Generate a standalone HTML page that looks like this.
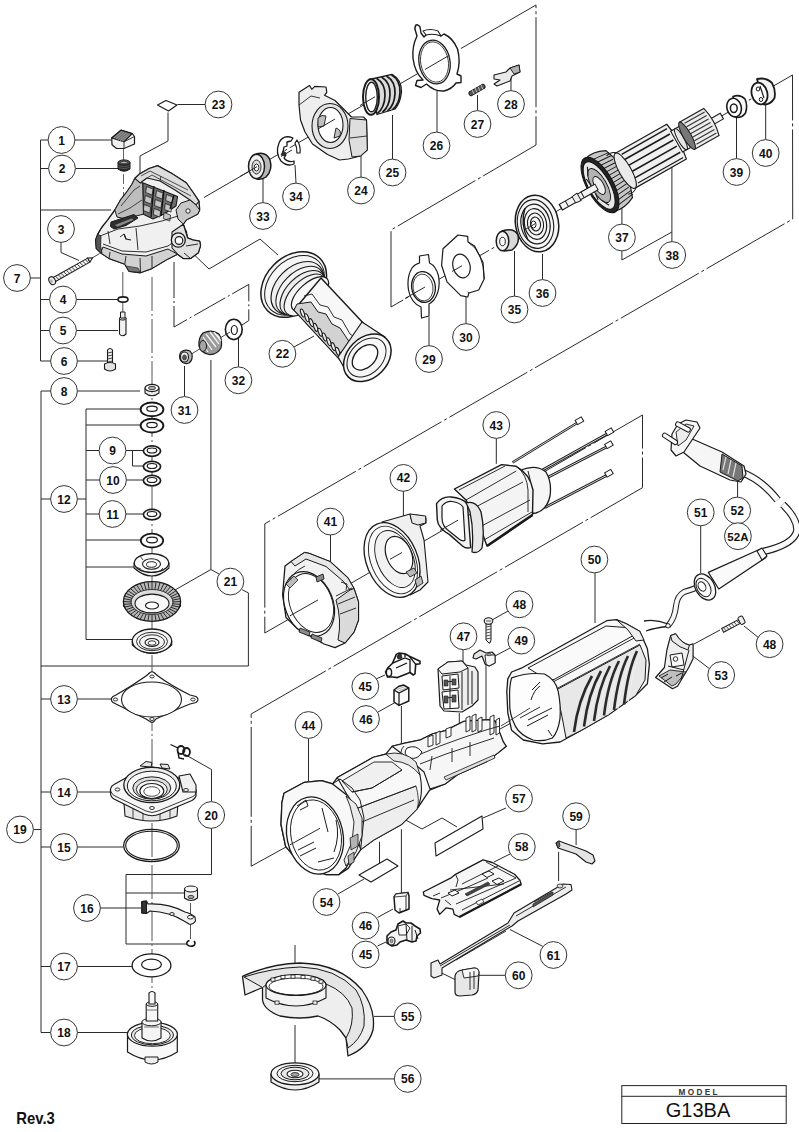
<!DOCTYPE html>
<html><head><meta charset="utf-8"><title>G13BA parts</title>
<style>html,body{margin:0;padding:0;background:#fff;}body{width:799px;height:1132px;overflow:hidden;font-family:"Liberation Sans",sans-serif;}svg{display:block;}</style>
</head><body>
<svg width="799" height="1132" viewBox="0 0 799 1132">
<g fill="none" stroke="#2a2a2a" stroke-width="1">
<polyline points="204.0,197.5 536.0,5.0 536.0,145.0 391.0,230.0 391.0,307.0 792.5,75.0 792.7,219.0 264.8,523.8 264.8,633.0 642.5,415.0 642.5,487.7 251.2,714.0 251.2,866.2 540.0,707.0" stroke-dasharray="90 3 3 3"/>
<polyline points="40.5,140.0 40.5,361.0"/>
<polyline points="40.5,140.0 48.0,140.0"/>
<polyline points="40.5,168.5 48.5,168.5"/>
<polyline points="40.5,210.0 111.0,210.0"/>
<polyline points="40.5,299.5 49.5,299.5"/>
<polyline points="40.5,330.5 49.5,330.5"/>
<polyline points="40.5,361.0 50.5,361.0"/>
<polyline points="30.5,278.0 40.5,278.0"/>
<polyline points="75.0,140.0 111.0,140.0"/>
<polyline points="75.5,168.5 119.0,168.5"/>
<polyline points="76.5,299.5 118.0,299.5"/>
<polyline points="76.5,330.5 118.0,330.5"/>
<polyline points="77.5,361.0 107.0,361.0"/>
<polyline points="61.0,242.4 61.0,252.5 79.0,260.5"/>
<polyline points="41.0,391.0 41.0,1032.5"/>
<polyline points="41.0,391.0 50.6,391.0"/>
<polyline points="41.0,499.0 50.6,499.0"/>
<polyline points="41.0,666.0 248.4,666.0"/>
<polyline points="41.0,699.0 50.6,699.0"/>
<polyline points="41.0,792.0 50.6,792.0"/>
<polyline points="41.0,847.0 50.6,847.0"/>
<polyline points="41.0,966.5 50.6,966.5"/>
<polyline points="41.0,1032.5 50.6,1032.5"/>
<polyline points="33.4,829.5 41.0,829.5"/>
<polyline points="77.4,391.0 140.0,391.0"/>
<polyline points="86.0,409.0 86.0,639.5"/>
<polyline points="77.4,499.0 86.0,499.0"/>
<polyline points="86.0,409.0 140.0,409.0"/>
<polyline points="86.0,425.0 140.0,425.0"/>
<polyline points="86.0,450.5 99.1,450.5"/>
<polyline points="86.0,480.0 99.6,480.0"/>
<polyline points="86.0,514.0 99.1,514.0"/>
<polyline points="86.0,540.0 141.0,540.0"/>
<polyline points="86.0,567.0 135.0,567.0"/>
<polyline points="86.0,639.5 132.0,639.5"/>
<polyline points="125.9,450.5 144.0,450.5"/>
<polyline points="132.5,450.5 132.5,466.0 144.0,466.0"/>
<polyline points="126.4,480.0 144.0,480.0"/>
<polyline points="125.9,514.0 144.0,514.0"/>
<polyline points="77.4,699.0 112.0,699.0"/>
<polyline points="77.4,792.0 111.0,792.0"/>
<polyline points="77.4,847.0 123.0,847.0"/>
<polyline points="100.4,908.0 141.0,908.0"/>
<polyline points="77.4,966.5 132.0,966.5"/>
<polyline points="77.4,1032.5 127.0,1032.5"/>
<polyline points="210.9,360.0 210.9,569.5 175.0,590.0"/>
<polyline points="219.5,574.3 210.9,569.5"/>
<polyline points="242.2,589.7 248.4,592.9 248.4,666.0"/>
<polyline points="211.5,801.1 211.5,769.5 185.0,754.5"/>
<polyline points="211.5,827.9 211.5,874.5 126.0,874.5 126.0,944.0 187.0,944.0"/>
<polyline points="126.0,893.0 185.0,893.0"/>
<polyline points="205.1,104.5 177.5,104.5"/>
<polyline points="168.0,112.5 168.0,141.0 140.0,156.0 140.0,222.0"/>
<polyline points="294.0,347.0 314.0,336.0"/>
<polyline points="183.0,244.0 209.0,269.0 260.0,239.0 278.0,255.0"/>
<polyline points="394.3,1078.9 319.0,1078.9"/>
<polyline points="263.0,177.5 263.0,202.6"/>
<polyline points="295.0,165.0 296.0,183.1"/>
<polyline points="361.0,155.0 361.0,177.1"/>
<polyline points="392.5,115.0 392.5,159.1"/>
<polyline points="437.0,91.0 437.0,132.1"/>
<polyline points="477.5,95.0 477.5,110.6"/>
<polyline points="511.0,77.0 511.0,90.6"/>
<polyline points="429.0,317.0 429.0,345.6"/>
<polyline points="466.0,297.0 466.0,323.6"/>
<polyline points="514.5,251.0 514.5,296.1"/>
<polyline points="542.5,254.0 542.5,279.6"/>
<polyline points="736.5,117.0 736.5,158.6"/>
<polyline points="765.7,103.0 765.7,139.6"/>
<polyline points="184.5,366.0 184.5,396.6"/>
<polyline points="238.5,338.0 238.5,366.6"/>
</g>
<line x1="152" y1="277" x2="152" y2="992" stroke="#555" stroke-width="1" stroke-dasharray="34 3 2 3"/>
<ellipse cx="123" cy="299.5" rx="5" ry="2.6" fill="none" stroke="#1a1a1a" stroke-width="1.6" />
<line x1="122.8" y1="272" x2="122.8" y2="296" stroke="#444" stroke-width="0.9"/>
<line x1="122.8" y1="303" x2="122.8" y2="316" stroke="#444" stroke-width="0.9"/>
<path d="M119.5,318 L119.5,334 Q122.5,337.5 126,334 L126,318 Z" fill="#f2f2f2" stroke="#1a1a1a" stroke-width="1.1" stroke-linejoin="round" />
<ellipse cx="122.7" cy="318.5" rx="3.2" ry="1.6" fill="#dddddd" stroke="#1a1a1a" stroke-width="1" />
<path d="M120.5,312 L120.5,318 L125,318 L125,312 Z" fill="#eeeeee" stroke="#1a1a1a" stroke-width="1" stroke-linejoin="round" />
<path d="M107.5,350 L107.5,364 L112.5,364 L112.5,350 Q110,347 107.5,350 Z" fill="#ececec" stroke="#1a1a1a" stroke-width="1.1" stroke-linejoin="round" />
<path d="M107.5,353 L112.5,352 M107.5,356 L112.5,355 M107.5,359 L112.5,358 M107.5,362 L112.5,361" stroke="#333" stroke-width="0.9"/>
<path d="M104.5,364 L104.5,369 Q110,373 115.5,369 L115.5,364 Q110,361 104.5,364 Z" fill="#e4e4e4" stroke="#1a1a1a" stroke-width="1.1" stroke-linejoin="round" />
<path d="M145,388 L145,393 Q152,398.5 159,393 L159,388 Z" fill="#eaeaea" stroke="#1a1a1a" stroke-width="1.1" stroke-linejoin="round" />
<ellipse cx="152" cy="388" rx="7" ry="3.6" fill="#f6f6f6" stroke="#1a1a1a" stroke-width="1.1" />
<ellipse cx="152" cy="388" rx="3.5" ry="1.7" fill="#b2b2b2" stroke="#1a1a1a" stroke-width="0.8" />
<ellipse cx="152" cy="409.40000000000003" rx="11.4" ry="6.9" fill="#ffffff" stroke="#1a1a1a" stroke-width="1.9" />
<ellipse cx="152" cy="408.8" rx="5.2" ry="2.6" fill="#ffffff" stroke="#1a1a1a" stroke-width="1.2" />
<ellipse cx="152" cy="425.6" rx="11.4" ry="6.9" fill="#ffffff" stroke="#1a1a1a" stroke-width="1.9" />
<ellipse cx="152" cy="425" rx="5.2" ry="2.6" fill="#ffffff" stroke="#1a1a1a" stroke-width="1.2" />
<ellipse cx="152" cy="451.1" rx="8.6" ry="5.2" fill="#ffffff" stroke="#1a1a1a" stroke-width="1.7" />
<ellipse cx="152" cy="450.5" rx="4.8" ry="2.5" fill="#ffffff" stroke="#1a1a1a" stroke-width="1.2" />
<ellipse cx="152" cy="466.6" rx="8.6" ry="5.2" fill="#ffffff" stroke="#1a1a1a" stroke-width="1.7" />
<ellipse cx="152" cy="466" rx="4.8" ry="2.5" fill="#ffffff" stroke="#1a1a1a" stroke-width="1.2" />
<ellipse cx="152" cy="480.6" rx="8.6" ry="5.2" fill="#ffffff" stroke="#1a1a1a" stroke-width="1.7" />
<ellipse cx="152" cy="480" rx="4.8" ry="2.5" fill="#ffffff" stroke="#1a1a1a" stroke-width="1.2" />
<ellipse cx="152" cy="514.6" rx="8.6" ry="5.2" fill="#ffffff" stroke="#1a1a1a" stroke-width="1.6" />
<ellipse cx="152" cy="514" rx="4.8" ry="2.5" fill="#ffffff" stroke="#1a1a1a" stroke-width="1.2" />
<ellipse cx="152" cy="540.6" rx="11.2" ry="6.9" fill="#ffffff" stroke="#1a1a1a" stroke-width="1.8" />
<ellipse cx="152" cy="540" rx="5.4" ry="2.8" fill="#ffffff" stroke="#1a1a1a" stroke-width="1.2" />
<path d="M134,563 L134,568 Q152,584 169,568 L169,563 Z" fill="#f0f0f0" stroke="#1a1a1a" stroke-width="1.1" stroke-linejoin="round" />
<ellipse cx="151.5" cy="563" rx="17.2" ry="9.4" fill="#fafafa" stroke="#1a1a1a" stroke-width="1.2" />
<ellipse cx="151.5" cy="564" rx="9" ry="5.2" fill="#ffffff" stroke="#1a1a1a" stroke-width="1.1" />
<ellipse cx="151.5" cy="564.5" rx="5" ry="2.8" fill="#ffffff" stroke="#1a1a1a" stroke-width="1" />
<path d="M140,556 L143,560 M160,571 L163,568 M136,567 L141,569" stroke="#333" stroke-width="0.9"/>
<path d="M123.5,601 L123.5,606 Q152,634 180.5,606 L180.5,601 Z" fill="#8C8C8C" stroke="#1a1a1a" stroke-width="1.1" stroke-linejoin="round" />
<ellipse cx="152" cy="601.5" rx="28.6" ry="19.8" fill="#B8B8B8" stroke="#1a1a1a" stroke-width="1.3" />
<ellipse cx="152" cy="602" rx="21" ry="12.5" fill="#dcdcdc" stroke="#1a1a1a" stroke-width="0.8" />
<ellipse cx="152" cy="603.5" rx="17" ry="9.4" fill="#f8f8f8" stroke="#1a1a1a" stroke-width="1.1" />
<ellipse cx="152" cy="605.5" rx="6.5" ry="3.5" fill="#ffffff" stroke="#1a1a1a" stroke-width="1.1" />
<path d="M172.5,602.0 L180.2,601.5 M172.3,603.8 L179.9,604.3 M171.7,605.5 L179.1,607.0 M170.6,607.2 L177.7,609.6 M169.2,608.8 L175.7,612.0 M167.5,610.2 L173.3,614.2 M165.4,611.4 L170.5,616.2 M163.1,612.5 L167.2,617.8 M160.5,613.4 L163.7,619.1 M157.8,614.0 L159.9,620.1 M154.9,614.4 L156.0,620.7 M152.0,614.5 L152.0,620.9 M149.1,614.4 L148.0,620.7 M146.2,614.0 L144.1,620.1 M143.5,613.4 L140.3,619.1 M140.9,612.5 L136.8,617.8 M138.6,611.4 L133.5,616.2 M136.5,610.2 L130.7,614.2 M134.8,608.8 L128.3,612.0 M133.4,607.2 L126.3,609.6 M132.3,605.5 L124.9,607.0 M131.7,603.8 L124.1,604.3 M131.5,602.0 L123.8,601.5 M131.7,600.2 L124.1,598.7 M132.3,598.5 L124.9,596.0 M133.4,596.8 L126.3,593.4 M134.8,595.2 L128.3,591.0 M136.5,593.8 L130.7,588.8 M138.6,592.6 L133.5,586.8 M140.9,591.5 L136.8,585.2 M143.5,590.6 L140.3,583.9 M146.2,590.0 L144.1,582.9 M149.1,589.6 L148.0,582.3 M152.0,589.5 L152.0,582.1 M154.9,589.6 L156.0,582.3 M157.8,590.0 L159.9,582.9 M160.5,590.6 L163.7,583.9 M163.1,591.5 L167.2,585.2 M165.4,592.6 L170.5,586.8 M167.5,593.8 L173.3,588.8 M169.2,595.2 L175.7,591.0 M170.6,596.8 L177.7,593.4 M171.7,598.5 L179.1,596.0 M172.3,600.2 L179.9,598.7" stroke="#1a1a1a" stroke-width="0.9" fill="none"/>
<path d="M132.3,641 L132.3,645 Q152,662 171.7,645 L171.7,641 Z" fill="#e7e7e7" stroke="#1a1a1a" stroke-width="1.1" stroke-linejoin="round" />
<ellipse cx="152" cy="641" rx="19.7" ry="12" fill="#f4f4f4" stroke="#1a1a1a" stroke-width="1.3" />
<ellipse cx="152" cy="641.5" rx="15.5" ry="9.2" fill="none" stroke="#1a1a1a" stroke-width="0.9" />
<ellipse cx="152" cy="642" rx="12.5" ry="7.2" fill="none" stroke="#1a1a1a" stroke-width="0.9" />
<ellipse cx="152" cy="642.5" rx="7" ry="4" fill="#ffffff" stroke="#1a1a1a" stroke-width="1.1" />
<ellipse cx="152" cy="643" rx="4" ry="2.2" fill="#ffffff" stroke="#1a1a1a" stroke-width="0.9" />
<path d="M150,672.5 Q152,671 154,672.5 L158,676 Q170,685 190,695 L196,696.5 Q200,699.5 196,702.5 L190,704 Q170,712 156,719 L154,721.5 Q152,723 150,721.5 L146,719 Q132,712 116,704 L113,702.5 Q109.5,699.5 113,696.5 L116,695 Q132,686 146,676 Z" fill="#ffffff" stroke="#1a1a1a" stroke-width="1.2" stroke-linejoin="round" />
<ellipse cx="151.5" cy="699.5" rx="30" ry="17.5" fill="#ffffff" stroke="#1a1a1a" stroke-width="1.1" />
<ellipse cx="152" cy="676.5" rx="2.2" ry="1.5" fill="#ffffff" stroke="#1a1a1a" stroke-width="0.9" />
<ellipse cx="115.5" cy="699.5" rx="2.2" ry="1.5" fill="#ffffff" stroke="#1a1a1a" stroke-width="0.9" />
<ellipse cx="193" cy="699.5" rx="2.2" ry="1.5" fill="#ffffff" stroke="#1a1a1a" stroke-width="0.9" />
<ellipse cx="152" cy="719" rx="2.2" ry="1.5" fill="#ffffff" stroke="#1a1a1a" stroke-width="0.9" />
<path d="M124,803 L125,816 Q152,826 177,816 L178,803 Z" fill="#e8e8e8" stroke="#1a1a1a" stroke-width="1.1" stroke-linejoin="round" />
<path d="M133,808 L133,819 M143,810 L143,821 M160,810 L160,821 M170,808 L170,819" stroke="#333" stroke-width="0.9"/>
<path d="M110.5,789 Q111,786 114,784.5 L140,770 Q152,764 164,770 L193,786 Q197,789 196,793 L196,796 Q195,799 192,800.5 L160,814 Q152,817.5 144,814 L114,799 Q110.5,797 110.5,793 Z" fill="#f6f6f6" stroke="#1a1a1a" stroke-width="1.2" stroke-linejoin="round" />
<path d="M110.5,791 Q113,796 116,796.5 L146,811 Q152,814 158,811 L193,796.5 Q196,795 196,792" fill="none" stroke="#222" stroke-width="0.9"/>
<path d="M179,776 L190,774 L196,785 L196,792 L183,792 Z" fill="#f0f0f0" stroke="#1a1a1a" stroke-width="1.1" stroke-linejoin="round" />
<ellipse cx="151.8" cy="785" rx="28" ry="17.6" fill="#ececec" stroke="#1a1a1a" stroke-width="1.3" />
<ellipse cx="151.8" cy="786" rx="24.5" ry="14.8" fill="#f8f8f8" stroke="#1a1a1a" stroke-width="1" />
<ellipse cx="151.8" cy="788" rx="19" ry="11.2" fill="#dedede" stroke="#1a1a1a" stroke-width="1" />
<ellipse cx="151.8" cy="789.5" rx="15.5" ry="9.2" fill="#f4f4f4" stroke="#1a1a1a" stroke-width="0.9" />
<ellipse cx="151.8" cy="791" rx="12" ry="7.5" fill="#ffffff" stroke="#1a1a1a" stroke-width="1.1" />
<ellipse cx="151.8" cy="791.5" rx="8" ry="4.8" fill="#ffffff" stroke="#1a1a1a" stroke-width="0.8" />
<ellipse cx="117.5" cy="789.5" rx="2.4" ry="1.5" fill="#ffffff" stroke="#1a1a1a" stroke-width="0.9" />
<ellipse cx="186" cy="790" rx="2.4" ry="1.5" fill="#ffffff" stroke="#1a1a1a" stroke-width="0.9" />
<ellipse cx="152" cy="808" rx="2.4" ry="1.5" fill="#ffffff" stroke="#1a1a1a" stroke-width="0.9" />
<path d="M140,766 L146,761.5 L152,762.5 L151,767 Z M160,764 L168,764.5 L170,769 L162,768 Z" fill="#e6e6e6" stroke="#1a1a1a" stroke-width="1" stroke-linejoin="round" />
<ellipse cx="151.5" cy="845.5" rx="27.8" ry="16.1" fill="none" stroke="#1a1a1a" stroke-width="1.3" />
<ellipse cx="151.5" cy="845.5" rx="25.8" ry="14.2" fill="none" stroke="#1a1a1a" stroke-width="1.1" />
<path d="M170.5,744.5 L178,748" stroke="#111" stroke-width="1.2" fill="none"/>
<ellipse cx="181" cy="750" rx="3.5" ry="4" fill="none" stroke="#1a1a1a" stroke-width="1.8" />
<ellipse cx="186.5" cy="752" rx="3.5" ry="4" fill="none" stroke="#1a1a1a" stroke-width="1.8" />
<path d="M178,752 L179,758 L184,759" stroke="#111" stroke-width="1.4" fill="none"/>
<path d="M184.5,889 L184.5,898 Q191,903 197.5,898 L197.5,889 Z" fill="#ececec" stroke="#1a1a1a" stroke-width="1.1" stroke-linejoin="round" />
<ellipse cx="191" cy="889" rx="6.5" ry="3" fill="#f6f6f6" stroke="#1a1a1a" stroke-width="1.1" />
<ellipse cx="191" cy="897" rx="3" ry="1.6" fill="#a6a6a6" stroke="#1a1a1a" stroke-width="0.8" />
<line x1="190.5" y1="903" x2="190.5" y2="914" stroke="#444" stroke-width="0.9"/>
<line x1="190.5" y1="924" x2="190.5" y2="939" stroke="#444" stroke-width="0.9"/>
<path d="M141.8,901.5 L146.5,901 L148,904 Q168,903 185,912 Q192,914 195,917 L195.5,921 Q193,925 189,924 L184,921 Q170,912 150,911 L146.5,913.5 L141.8,913 Z" fill="#f2f2f2" stroke="#1a1a1a" stroke-width="1.1" stroke-linejoin="round" />
<path d="M141.8,901.5 L146.5,901 L146.5,913.5 L141.8,913 Z" fill="#333333" stroke="#1a1a1a" stroke-width="1" stroke-linejoin="round" />
<ellipse cx="190.5" cy="917.2" rx="3" ry="1.8" fill="#ffffff" stroke="#1a1a1a" stroke-width="1" />
<ellipse cx="172" cy="914" rx="2.2" ry="1.5" fill="#eeeeee" stroke="#1a1a1a" stroke-width="0.9" />
<path d="M194,941 Q196,943 194,945.5 Q190,947.5 187,944.5 Q186,941.5 189.5,940.5" fill="none" stroke="#111" stroke-width="1.5"/>
<ellipse cx="151.5" cy="965.4" rx="19.4" ry="11.5" fill="#ffffff" stroke="#1a1a1a" stroke-width="1.3" />
<ellipse cx="151.5" cy="964.5" rx="9.9" ry="5.3" fill="#ffffff" stroke="#1a1a1a" stroke-width="1.2" />
<path d="M127.5,1034 L127.5,1052 Q152.4,1068 177.3,1052 L177.3,1034 Z" fill="#f8f8f8" stroke="#1a1a1a" stroke-width="1.2" stroke-linejoin="round" />
<path d="M145,1057 L145,1062 Q151.5,1066 158,1062 L158,1057 Z" fill="#eeeeee" stroke="#1a1a1a" stroke-width="1" stroke-linejoin="round" />
<ellipse cx="152.4" cy="1034.3" rx="25" ry="11.9" fill="#f8f8f8" stroke="#1a1a1a" stroke-width="1.2" />
<ellipse cx="152.4" cy="1035" rx="21" ry="9.8" fill="#e7e7e7" stroke="#1a1a1a" stroke-width="1" />
<ellipse cx="152.4" cy="1035.5" rx="18" ry="8.2" fill="#f8f8f8" stroke="#1a1a1a" stroke-width="0.9" />
<path d="M142,1022 L142,1038 Q151.5,1044 161,1038 L161,1022 Z" fill="#f4f4f4" stroke="#1a1a1a" stroke-width="1.1" stroke-linejoin="round" />
<ellipse cx="151.5" cy="1022" rx="9.6" ry="3.8" fill="#f6f6f6" stroke="#1a1a1a" stroke-width="1" />
<path d="M146.2,1004 L146.2,1021 L157.7,1021 L157.7,1004 Z" fill="#f6f6f6" stroke="#1a1a1a" stroke-width="1.1" stroke-linejoin="round" />
<ellipse cx="152" cy="1004" rx="5.8" ry="2.3" fill="#f6f6f6" stroke="#1a1a1a" stroke-width="1" />
<path d="M149,993 L149,1004 L155,1004 L155,993 Q152,990 149,993 Z" fill="#f8f8f8" stroke="#1a1a1a" stroke-width="1.1" stroke-linejoin="round" />
<path d="M146.2,1010 L157.7,1010 M144,1027 L159,1027" stroke="#555" stroke-width="0.8"/>
<path d="M157.5,105 L166,100.5 L177,105 L168.5,111 Z" fill="#ffffff" stroke="#1a1a1a" stroke-width="1.1" stroke-linejoin="round" />
<path d="M111.7,138 L112,144.8 L116.5,148.5 L124,148.5 L134.5,144 L134.5,136.5 L132.2,133.5 L121,130.2 Z" fill="#f0f0f0" stroke="#1a1a1a" stroke-width="1.2" stroke-linejoin="round" />
<path d="M111.7,138 L121,130.2 L132.2,133.5 L124,141.8 Z" fill="#6e6e6e" stroke="#1a1a1a" stroke-width="1.1" stroke-linejoin="round" />
<path d="M114,138 L122,131.5 M116,139 L124,132.3 M118,140 L126,133 M120,141 L128,133.8 M122,141.3 L130,134.3" stroke="#aaa" stroke-width="0.7"/>
<path d="M124,141.8 L124,148.5 M124,141.8 L134.5,136.5" stroke="#222" stroke-width="0.9" fill="none"/>
<line x1="123.5" y1="149" x2="123.5" y2="160" stroke="#555" stroke-width="0.9"/>
<path d="M118,162.5 L118,169 Q124,173.5 130,169 L130,162.5 Z" fill="#2a2a2a" stroke="#1a1a1a" stroke-width="1" stroke-linejoin="round" />
<ellipse cx="124" cy="162.5" rx="6" ry="2.6" fill="#555555" stroke="#1a1a1a" stroke-width="1" />
<ellipse cx="124" cy="162.5" rx="3" ry="1.2" fill="#b2b2b2" stroke="#1a1a1a" stroke-width="0.6" />
<path d="M118.5,165.5 Q124,168 129.5,165.5 M118.5,167.5 Q124,170 129.5,167.5" stroke="#777" stroke-width="0.6" fill="none"/>
<line x1="123.5" y1="174" x2="123.5" y2="222" stroke="#555" stroke-width="0.9" stroke-dasharray="10 3 2 3"/>
<g transform="translate(51.3,281.2) rotate(-29.4)"><rect x="3" y="-2.3" width="40" height="4.6" fill="#f4f4f4" stroke="#1a1a1a" stroke-width="1"/><path d="M43,-2.3 L47.5,0 L43,2.3 Z" fill="#f4f4f4" stroke="#1a1a1a" stroke-width="1"/><line x1="6.0" y1="-2.3" x2="7.5" y2="2.3" stroke="#333" stroke-width="0.8"/><line x1="9.1" y1="-2.3" x2="10.6" y2="2.3" stroke="#333" stroke-width="0.8"/><line x1="12.2" y1="-2.3" x2="13.7" y2="2.3" stroke="#333" stroke-width="0.8"/><line x1="15.3" y1="-2.3" x2="16.8" y2="2.3" stroke="#333" stroke-width="0.8"/><line x1="18.4" y1="-2.3" x2="19.9" y2="2.3" stroke="#333" stroke-width="0.8"/><line x1="21.5" y1="-2.3" x2="23.0" y2="2.3" stroke="#333" stroke-width="0.8"/><line x1="24.6" y1="-2.3" x2="26.1" y2="2.3" stroke="#333" stroke-width="0.8"/><line x1="27.7" y1="-2.3" x2="29.2" y2="2.3" stroke="#333" stroke-width="0.8"/><line x1="30.8" y1="-2.3" x2="32.3" y2="2.3" stroke="#333" stroke-width="0.8"/><line x1="33.9" y1="-2.3" x2="35.4" y2="2.3" stroke="#333" stroke-width="0.8"/><line x1="37.0" y1="-2.3" x2="38.5" y2="2.3" stroke="#333" stroke-width="0.8"/><line x1="40.1" y1="-2.3" x2="41.6" y2="2.3" stroke="#333" stroke-width="0.8"/><ellipse cx="1" cy="0" rx="3" ry="4.2" fill="#eeeeee" stroke="#1a1a1a" stroke-width="1.1"/><ellipse cx="0" cy="0" rx="1.5" ry="2" fill="#b2b2b2" stroke="none"/></g>
<line x1="92" y1="258" x2="140" y2="230" stroke="#333" stroke-width="0.9" stroke-dasharray="9 3 2 3"/>
<path d="M134.8,178.5 L139.1,174.3 L149.1,168.6 L157.6,165.7 L171.9,173.6 L186.2,182.8 L193.3,192.8 L199,201.4 L199.7,210 L197.6,214.2 L186.2,220 L183.3,224.2 L184.8,228.5 L186.2,231.4 L187.6,238 L193,240 L199.7,241.3 L200.5,245.6 L198.3,252.8 L190.5,258.5 L183.3,258.5 L177.6,254.2 L166.2,259.9 L151.9,268.5 L140.5,272.7 L129.1,271.3 L124.8,264.2 L109.1,258.5 L100.6,252.8 L96.3,248.5 L95.6,239.9 L97.7,234.2 L102,227 L107.7,219.9 L114.8,210 L120.5,200 L126.2,192.8 L132,184.3 Z" fill="#F0F0F0" stroke="#1a1a1a" stroke-width="1.4" stroke-linejoin="round" />
<path d="M134.8,178.5 L139.1,174.3 L149.1,168.6 L157.6,165.7 L171.9,173.6 L186.2,182.8 L193.3,192.8 L199,201.4 L196,205 L190,200 L175,190 L160,181 L147,178 L140,183 Z" fill="#DDDDDD" stroke="#1a1a1a" stroke-width="1.1" stroke-linejoin="round" />
<path d="M141,176 L150,171 L188,190 M144,180 L152,175 L191,196 M160,181 L161,176" stroke="#222" stroke-width="0.8" fill="none"/>
<path d="M190,200 L196,205 L199.7,210 L197.6,214.2 L186.2,220 L183.3,224.2 L178,219 L176,210 L181,203 Z" fill="#C8C8C8" stroke="#1a1a1a" stroke-width="1" stroke-linejoin="round" />
<ellipse cx="188" cy="211" rx="2.2" ry="2.2" fill="#F0F0F0" stroke="#1a1a1a" stroke-width="0.9" />
<path d="M142.7,182.8 L177.6,196.4 L176,206 L164,214 L153,219 L143.4,214.2 Z" fill="#6E6E6E" stroke="#1a1a1a" stroke-width="1.1" stroke-linejoin="round" />
<path d="M146.5,186.5 l6.5,2.6 l-0.8,6 l-6.5,-2.6 Z M145.3,195.5 l6.5,2.6 l-0.8,6 l-6.5,-2.6 Z M144.1,204.5 l6.5,2.6 l-0.8,6 l-6.5,-2.6 Z M156.5,190.5 l6.5,2.6 l-0.8,6 l-6.5,-2.6 Z M155.3,199.5 l6.5,2.6 l-0.8,6 l-6.5,-2.6 Z M154.1,208.5 l6.5,2.6 l-0.8,6 l-6.5,-2.6 Z M166.5,194.5 l6.5,2.6 l-0.8,6 l-6.5,-2.6 Z M165.3,203.5 l6.5,2.6 l-0.8,6 l-6.5,-2.6 Z M164.1,212.5 l6.5,2.6 l-0.8,6 l-6.5,-2.6 Z" fill="#C4C4C4" stroke="#111" stroke-width="0.7"/>
<path d="M154,186 L151,217 M164,190 L161,216 M174,195 L170,209" stroke="#111" stroke-width="1.3" fill="none"/>
<path d="M114.8,210 L120.5,200 L126.2,192.8 L132,184.3 L134.8,178.5 L140,183 L142.7,182.8 L143.4,214.2 L136,216 L126,219 L117,217 Z" fill="#BDBDBD" stroke="#1a1a1a" stroke-width="1" stroke-linejoin="round" />
<path d="M121,206 L134,190 L140,186 M118,214 L130,208 L142,200" stroke="#222" stroke-width="0.8" fill="none"/>
<path d="M111,222 L134,214.5 L138,218 L126,225.5 L114,229 L110.5,226.5 Z" fill="#2E2E2E" stroke="#1a1a1a" stroke-width="1" stroke-linejoin="round" />
<path d="M114,225 L132,218 L134,220 L118,227 Z" fill="#8A8A8A" stroke="#1a1a1a" stroke-width="0.5" stroke-linejoin="round" />
<path d="M100,236 L118,229 L140,226 L162,221 L178,216 M97.7,234.2 L102,227 M103,244 L122,251 L146,252 L168,246 L182,236 M108,231 L110,244 M136,228 L138,250 M120,237 L124,234 L126,239" stroke="#1a1a1a" stroke-width="0.9" fill="none"/>
<path d="M124,234 L126,239 L131,240" stroke="#1a1a1a" stroke-width="1.2" fill="none"/>
<path d="M103,247 L122,254 L146,256 L168,249 L177.6,254.2 L166.2,259.9 L151.9,268.5 L140.5,272.7 L129.1,271.3 L124.8,264.2 L109.1,258.5 L100.6,252.8 Z" fill="#D2D2D2" stroke="#1a1a1a" stroke-width="1" stroke-linejoin="round" />
<path d="M124.8,264.2 L126,256 M140,258 L140.5,272.7 M152,256 L152,268 M110,252 L109.1,258.5" stroke="#1a1a1a" stroke-width="0.9" fill="none"/>
<path d="M96.3,248.5 L95.6,239.9 L97.7,234.2 L101,236 L100.6,246 L102,252.8 L100.6,252.8 Z" fill="#555555" stroke="#1a1a1a" stroke-width="0.8" stroke-linejoin="round" />
<path d="M126,266 L138,268 L140,272 L129.1,271.3 Z" fill="#777777" stroke="#1a1a1a" stroke-width="0.6" stroke-linejoin="round" />
<path d="M183.3,224.2 L187.6,238 L193,240 L199.7,241.3 L200.5,245.6 L198.3,252.8 L190.5,258.5 L183.3,258.5 L177.6,254.2 L172,248 L172,232 Z" fill="#E0E0E0" stroke="#1a1a1a" stroke-width="1.1" stroke-linejoin="round" />
<ellipse cx="178.3" cy="240" rx="7" ry="7.2" fill="#EAEAEA" stroke="#1a1a1a" stroke-width="1.3" />
<ellipse cx="179" cy="240.5" rx="3.8" ry="3.9" fill="#FFFFFF" stroke="#1a1a1a" stroke-width="1.2" />
<path d="M186,246 L198,244 M184,253 L190,258" stroke="#1a1a1a" stroke-width="0.9" fill="none"/>
<path d="M256,154 Q266,151 270,160 Q273,170 266,177 Q262,180 257,179 Z" fill="#B8B8B8" stroke="#1a1a1a" stroke-width="1.5" stroke-linejoin="round" />
<ellipse cx="256.5" cy="166.5" rx="8" ry="12.3" fill="#F0F0F0" stroke="#1a1a1a" stroke-width="1.5" />
<ellipse cx="256.5" cy="167" rx="4.5" ry="7" fill="#dddddd" stroke="#1a1a1a" stroke-width="0.9" />
<ellipse cx="256.5" cy="167.5" rx="2.3" ry="3.5" fill="#ffffff" stroke="#1a1a1a" stroke-width="0.9" />
<path d="M293,138 Q283,134 279,143 Q275,153 281,161 Q287,167 294,164 L294,161 Q288,163 284,158 L286,155 L283,152 L284,147 L287,146 L287,142 L291,141 Z" fill="#ffffff" stroke="#1a1a1a" stroke-width="1.3" stroke-linejoin="round" />
<path d="M297,140 Q301,146 300,153 L297,153 Q297,147 295,143 Z" fill="#ffffff" stroke="#1a1a1a" stroke-width="1.2" stroke-linejoin="round" />
<path d="M283,151 L286,153 L285,156 L281,155 Z" fill="#333333" stroke="#1a1a1a" stroke-width="0.8" stroke-linejoin="round" />
<path d="M299,92.3 L309.5,85.5 L311.8,89.3 L314.8,86.3 L326,87 L326.8,92.3 L324.5,95.3 L335,100.5 L345.5,111 L351.5,117 L363.5,117 L366.5,120 L367.3,150 L360.5,156 L348.5,159 L339.5,160 L327.5,154.5 L312.5,144 L305,132 L300.5,120 L299,105 Z" fill="#eeeeee" stroke="#1a1a1a" stroke-width="1.2" stroke-linejoin="round" />
<path d="M350,118.5 L366.5,120 L367.3,150 L360.5,156 L352,157 L349,140 Z" fill="#dedede" stroke="#1a1a1a" stroke-width="1" stroke-linejoin="round" />
<path d="M350,138 L367,136 M299,105 L311,96 L320,98" stroke="#222" stroke-width="0.9" fill="none"/>
<ellipse cx="330" cy="126" rx="18" ry="22.5" fill="#e4e4e4" stroke="#1a1a1a" stroke-width="1.1" />
<ellipse cx="330.5" cy="125" rx="12.5" ry="17.5" fill="#ffffff" stroke="#1a1a1a" stroke-width="1.1" />
<path d="M318,118 Q322,114 326,116 L324,126 L318,127 Z M336,128 Q342,130 340,136 L334,138 Z" fill="#bfbfbf" stroke="#1a1a1a" stroke-width="0.9" stroke-linejoin="round" />
<path d="M369.5,79.5 L392,74.3 Q402,80 401.5,92 Q400,104 395,109 L377,114.5 Z" fill="#DCDCDC" stroke="#1a1a1a" stroke-width="1.3" stroke-linejoin="round" />
<path d="M376.5,78.3 Q385.5,83.8 385.0,95.8 Q384.5,107.8 377.5,113.3" stroke="#1a1a1a" stroke-width="1.7" fill="none"/>
<path d="M381.5,77.1 Q390.5,82.6 390.0,94.6 Q389.5,106.6 382.5,112.1" stroke="#1a1a1a" stroke-width="1.7" fill="none"/>
<path d="M386.5,75.9 Q395.5,81.4 395.0,93.4 Q394.5,105.4 387.5,110.9" stroke="#1a1a1a" stroke-width="1.7" fill="none"/>
<path d="M391.5,74.7 Q400.5,80.2 400.0,92.2 Q399.5,104.2 392.5,109.7" stroke="#1a1a1a" stroke-width="1.7" fill="none"/>
<ellipse cx="371" cy="97" rx="8" ry="17.8" fill="#FFFFFF" stroke="#1a1a1a" stroke-width="2.0" />
<ellipse cx="371.5" cy="97" rx="5.8" ry="14.8" fill="none" stroke="#1a1a1a" stroke-width="1.4" />
<path d="M416,25 Q414,28 415.5,31 L417,36 Q412,46 413,58 Q414.5,72 423,80 L417,80.5 L415.5,85.5 L421,87.5 L426.5,84 Q434,91.5 444,91 Q452,89 456,83 L461,82.5 L461,76 L457,74 Q461,62 457.5,49 Q453,38 444,34 L441,36 Q436,32 428,33 L424,37 L421,33 L420,27 Q418,24 416,25 Z" fill="#FFFFFF" stroke="#1a1a1a" stroke-width="1.4" stroke-linejoin="round" />
<path d="M423,31 Q430,28 438,31 L441,36 Q434,33 426,35 Z" fill="#FFFFFF" stroke="#1a1a1a" stroke-width="1.1" stroke-linejoin="round" />
<ellipse cx="434.5" cy="62" rx="15.5" ry="22" fill="#FFFFFF" stroke="#1a1a1a" stroke-width="1.3" transform="rotate(-10 434.5 62)"/>
<ellipse cx="434.5" cy="62" rx="13.8" ry="20.3" fill="none" stroke="#1a1a1a" stroke-width="0.8" transform="rotate(-10 434.5 62)"/>
<path d="M469,92 L483,84 Q486,85 485,88 L471,96 Q468,95 469,92 Z" fill="#555555" stroke="#1a1a1a" stroke-width="1" stroke-linejoin="round" />
<path d="M472,90 L474,94 M475,88 L477,92.5 M478,86.5 L480,91 M481,85 L483,89.5" stroke="#ddd" stroke-width="0.8"/>
<path d="M494,75 L506,72 L510,68 L519,65 L520,72 L512,76 L510,81 L497,86 L494,84 L500,80 L494,79 Z" fill="#eaeaea" stroke="#1a1a1a" stroke-width="1.1" stroke-linejoin="round" />
<path d="M510,68 L519,65 L520,72 L514,74 Z" fill="#b2b2b2" stroke="#1a1a1a" stroke-width="0.9" stroke-linejoin="round" />
<polyline points="174,262 174,327 248.8,284.4 248.8,320.6 241,325.6" fill="none" stroke="#2a2a2a" stroke-width="1" stroke-dasharray="36 3 2 3"/>
<ellipse cx="233.8" cy="329.4" rx="8.4" ry="10.2" fill="#ffffff" stroke="#1a1a1a" stroke-width="1.6" />
<ellipse cx="234.3" cy="330" rx="3" ry="4.5" fill="#ffffff" stroke="#1a1a1a" stroke-width="1.2" />
<line x1="192" y1="353.7" x2="200" y2="348.7" stroke="#333" stroke-width="0.9"/><line x1="220" y1="338" x2="230" y2="332" stroke="#333" stroke-width="0.9"/>
<path d="M181,352 Q185,349 190,351 L192,354 Q193,360 189,363 Q184,365 181,361 Q178,356 181,352 Z" fill="#b8b8b8" stroke="#1a1a1a" stroke-width="1.2" stroke-linejoin="round" />
<ellipse cx="184.5" cy="357" rx="4" ry="5" fill="#ececec" stroke="#1a1a1a" stroke-width="1.1" />
<ellipse cx="184.5" cy="357.5" rx="2" ry="2.6" fill="#555555" stroke="#1a1a1a" stroke-width="0.6" />
<path d="M203,333 Q212,329 219,334 Q223,340 221,348 Q217,355 209,354.5 Q201,353 199,346 Q198,338 203,333 Z" fill="#9A9A9A" stroke="#1a1a1a" stroke-width="1.2" stroke-linejoin="round" />
<path d="M206,334 L216,347 M210,332 L219,344 M214,332 L221,341 M203,337 L212,350 M201,342 L208,352 M217,335 L220,338" stroke="#f4f4f4" stroke-width="1.3" fill="none"/>
<ellipse cx="203" cy="346" rx="3.5" ry="5.5" fill="#a6a6a6" stroke="#1a1a1a" stroke-width="1" />
<ellipse cx="293.7" cy="284.5" rx="28" ry="37" transform="rotate(45 293.7 284.5)" fill="#F6F6F6" stroke="#1a1a1a" stroke-width="1.5"/>
<ellipse cx="294.5" cy="285.3" rx="25" ry="34" transform="rotate(45 294.5 285.3)" fill="none" stroke="#1a1a1a" stroke-width="1.0"/>
<ellipse cx="297.5" cy="288" rx="21" ry="31" transform="rotate(45 297.5 288)" fill="#EFEFEF" stroke="#1a1a1a" stroke-width="1.2"/>
<ellipse cx="300" cy="290.5" rx="18" ry="29" transform="rotate(45 300 290.5)" fill="#F4F4F4" stroke="#1a1a1a" stroke-width="1.1"/>
<ellipse cx="302.5" cy="293" rx="16" ry="27.5" transform="rotate(45 302.5 293)" fill="#EDEDED" stroke="#1a1a1a" stroke-width="1.1"/>
<ellipse cx="305" cy="295" rx="14" ry="26" transform="rotate(45 305 295)" fill="#F4F4F4" stroke="#1a1a1a" stroke-width="1.1"/>
<ellipse cx="310" cy="294" rx="11" ry="23" transform="rotate(48 310 294)" fill="#F8F8F8" stroke="#1a1a1a" stroke-width="1.2"/>
<path d="M321,278 L366,326 L342,362 L294,310 Z" fill="#F8F8F8" stroke="#1a1a1a" stroke-width="1.4" stroke-linejoin="round" />
<path d="M297,304 L311,302 L318,312 L326,314 L332,324 L340,328 L348,340 L352,346 L342,362 L294,310 Z" fill="#D2D2D2" stroke="#1a1a1a" stroke-width="1.0" stroke-linejoin="round" />
<path d="M304,296 L312,294 L320,305 L328,307 L334,317 L342,320 L350,334 L356,338" stroke="#1a1a1a" stroke-width="0.9" fill="none"/>
<ellipse cx="302.5" cy="313.0" rx="1.6" ry="4.2" transform="rotate(-20 302.5 313.0)" fill="#F0F0F0" stroke="#1a1a1a" stroke-width="1.1"/><ellipse cx="306.9" cy="317.8" rx="1.6" ry="4.2" transform="rotate(-20 306.9 317.8)" fill="#F0F0F0" stroke="#1a1a1a" stroke-width="1.1"/><ellipse cx="311.3" cy="322.6" rx="1.6" ry="4.2" transform="rotate(-20 311.3 322.6)" fill="#F0F0F0" stroke="#1a1a1a" stroke-width="1.1"/><ellipse cx="315.7" cy="327.4" rx="1.6" ry="4.2" transform="rotate(-20 315.7 327.4)" fill="#F0F0F0" stroke="#1a1a1a" stroke-width="1.1"/><ellipse cx="320.1" cy="332.2" rx="1.6" ry="4.2" transform="rotate(-20 320.1 332.2)" fill="#F0F0F0" stroke="#1a1a1a" stroke-width="1.1"/><ellipse cx="324.5" cy="337.0" rx="1.6" ry="4.2" transform="rotate(-20 324.5 337.0)" fill="#F0F0F0" stroke="#1a1a1a" stroke-width="1.1"/><ellipse cx="328.9" cy="341.8" rx="1.6" ry="4.2" transform="rotate(-20 328.9 341.8)" fill="#F0F0F0" stroke="#1a1a1a" stroke-width="1.1"/><ellipse cx="333.3" cy="346.6" rx="1.6" ry="4.2" transform="rotate(-20 333.3 346.6)" fill="#F0F0F0" stroke="#1a1a1a" stroke-width="1.1"/><ellipse cx="337.7" cy="351.4" rx="1.6" ry="4.2" transform="rotate(-20 337.7 351.4)" fill="#F0F0F0" stroke="#1a1a1a" stroke-width="1.1"/><ellipse cx="342.1" cy="356.2" rx="1.6" ry="4.2" transform="rotate(-20 342.1 356.2)" fill="#F0F0F0" stroke="#1a1a1a" stroke-width="1.1"/>
<path d="M362,322 L385,337 L350,378 L338,357 Z" fill="#EEEEEE" stroke="#1a1a1a" stroke-width="1.2" stroke-linejoin="round" />
<ellipse cx="367.3" cy="357.8" rx="20" ry="27" transform="rotate(45 367.3 357.8)" fill="#F6F6F6" stroke="#1a1a1a" stroke-width="1.5"/>
<ellipse cx="366.5" cy="357.5" rx="16" ry="22.5" transform="rotate(45 366.5 357.5)" fill="none" stroke="#1a1a1a" stroke-width="1.0"/>
<ellipse cx="365" cy="357.3" rx="10" ry="15" transform="rotate(45 365 357.3)" fill="#FFFFFF" stroke="#1a1a1a" stroke-width="1.3"/>
<polyline points="621.9,251 621.9,260 671.9,232" fill="none" stroke="#2a2a2a" stroke-width="1"/>
<line x1="621.9" y1="208" x2="621.9" y2="224.6" stroke="#2a2a2a" stroke-width="1"/>
<line x1="671.9" y1="158" x2="671.9" y2="242" stroke="#2a2a2a" stroke-width="1"/>
<g transform="translate(600,185) rotate(-29.5)"><rect x="-45" y="-3.2" width="185" height="6.4" fill="#f4f4f4" stroke="#1a1a1a" stroke-width="1.1"/><path d="M-45,-3.2 L-45,3.2 M-38,-3.2 L-38,3.2 M-30,-3.6 L-30,3.6 L-24,4.2 L-24,-4.2 Z" stroke="#1a1a1a" stroke-width="0.9" fill="#eeeeee"/><path d="M0,-30 Q10,-33 22,-27 L28,-10 L28,10 L22,27 Q10,33 0,30 Z" fill="#C8C8C8" stroke="#1a1a1a" stroke-width="1.2"/><line x1="3" y1="-26.0" x2="24" y2="-24.0" stroke="#1a1a1a" stroke-width="0.9"/><line x1="3" y1="-21.6" x2="24" y2="-20.0" stroke="#1a1a1a" stroke-width="0.9"/><line x1="3" y1="-17.2" x2="24" y2="-16.0" stroke="#1a1a1a" stroke-width="0.9"/><line x1="3" y1="-12.8" x2="24" y2="-12.0" stroke="#1a1a1a" stroke-width="0.9"/><line x1="3" y1="-8.4" x2="24" y2="-8.0" stroke="#1a1a1a" stroke-width="0.9"/><line x1="3" y1="-4.0" x2="24" y2="-4.0" stroke="#1a1a1a" stroke-width="0.9"/><line x1="3" y1="0.4" x2="24" y2="0.0" stroke="#1a1a1a" stroke-width="0.9"/><line x1="3" y1="4.8" x2="24" y2="4.0" stroke="#1a1a1a" stroke-width="0.9"/><line x1="3" y1="9.2" x2="24" y2="8.0" stroke="#1a1a1a" stroke-width="0.9"/><line x1="3" y1="13.6" x2="24" y2="12.0" stroke="#1a1a1a" stroke-width="0.9"/><line x1="3" y1="18.0" x2="24" y2="16.0" stroke="#1a1a1a" stroke-width="0.9"/><line x1="3" y1="22.4" x2="24" y2="20.0" stroke="#1a1a1a" stroke-width="0.9"/><line x1="3" y1="26.8" x2="24" y2="24.0" stroke="#1a1a1a" stroke-width="0.9"/><ellipse cx="0" cy="0" rx="13" ry="31" fill="#222222" stroke="#111" stroke-width="1"/><ellipse cx="-1" cy="0" rx="10.5" ry="26.5" fill="#e7e7e7" stroke="#111" stroke-width="0.9"/><ellipse cx="-1" cy="0" rx="7.5" ry="19" fill="#b3b3b3" stroke="#111" stroke-width="0.9"/><ellipse cx="-1" cy="0" rx="4.5" ry="10" fill="#eeeeee" stroke="#111" stroke-width="0.9"/><path d="M-6,-14 L-2,-22 M-6,14 L-2,22 M-8,-4 L-9,-12 M-8,5 L-9,12" stroke="#222" stroke-width="1.2"/><rect x="-20" y="-3.2" width="16" height="6.4" fill="#f4f4f4" stroke="#1a1a1a" stroke-width="1"/><path d="M29,-20 L88,-20 Q92,0 88,20 L29,20 Z" fill="#f0f0f0" stroke="#1a1a1a" stroke-width="1.2"/><line x1="34" y1="-16" x2="86" y2="-16" stroke="#1a1a1a" stroke-width="1.4"/><line x1="34" y1="-10" x2="86" y2="-10" stroke="#1a1a1a" stroke-width="1.6"/><line x1="34" y1="-3" x2="86" y2="-3" stroke="#1a1a1a" stroke-width="1.6"/><line x1="34" y1="4" x2="86" y2="4" stroke="#1a1a1a" stroke-width="1.6"/><line x1="34" y1="11" x2="86" y2="11" stroke="#1a1a1a" stroke-width="1.5"/><line x1="34" y1="17" x2="86" y2="17" stroke="#1a1a1a" stroke-width="1.2"/><ellipse cx="29" cy="0" rx="6" ry="20" fill="#eaeaea" stroke="#1a1a1a" stroke-width="1.1"/><path d="M20,-22 Q26,-24 30,-20 M20,22 Q26,24 30,20" stroke="#1a1a1a" stroke-width="1" fill="none"/><path d="M88,-12 L101,-12 L101,12 L88,12 Z" fill="#f2f2f2" stroke="#1a1a1a" stroke-width="1.1"/><ellipse cx="93" cy="0" rx="3" ry="12" fill="#e6e6e6" stroke="#1a1a1a" stroke-width="0.9"/><path d="M100,-15.5 L128,-15.5 Q132,0 128,15.5 L100,15.5 Z" fill="#ececec" stroke="#1a1a1a" stroke-width="1.1"/><line x1="104" y1="-12.0" x2="127" y2="-12.0" stroke="#333" stroke-width="1.1"/><line x1="104" y1="-8.0" x2="127" y2="-8.0" stroke="#333" stroke-width="1.1"/><line x1="104" y1="-4.0" x2="127" y2="-4.0" stroke="#333" stroke-width="1.1"/><line x1="104" y1="0.0" x2="127" y2="0.0" stroke="#333" stroke-width="1.1"/><line x1="104" y1="4.0" x2="127" y2="4.0" stroke="#333" stroke-width="1.1"/><line x1="104" y1="8.0" x2="127" y2="8.0" stroke="#333" stroke-width="1.1"/><line x1="104" y1="12.0" x2="127" y2="12.0" stroke="#333" stroke-width="1.1"/><ellipse cx="100" cy="0" rx="4" ry="15.5" fill="#777777" stroke="#1a1a1a" stroke-width="1"/></g>
<path d="M733,96.5 Q740,94 745,99 Q748,106 745.5,113 Q742,118 736,117.5 Z" fill="#FAFAFA" stroke="#1a1a1a" stroke-width="1.6" stroke-linejoin="round" />
<ellipse cx="734.1" cy="107.6" rx="7.2" ry="9.4" fill="#FFFFFF" stroke="#1a1a1a" stroke-width="1.6" transform="rotate(-15 734.1 107.6)"/>
<ellipse cx="733.8" cy="108.3" rx="3.4" ry="4.2" fill="#FFFFFF" stroke="#1a1a1a" stroke-width="1.5" />
<path d="M757,79 Q766,77 772,83 Q776,90 774.5,98 Q771,104.5 764,104.5 Z" fill="#F4F4F4" stroke="#1a1a1a" stroke-width="1.8" stroke-linejoin="round" />
<ellipse cx="759.5" cy="93.5" rx="7.8" ry="11" fill="#FFFFFF" stroke="#1a1a1a" stroke-width="1.8" transform="rotate(-15 759.5 93.5)"/>
<ellipse cx="758" cy="89" rx="1.8" ry="2" fill="#FFFFFF" stroke="#1a1a1a" stroke-width="1.0" />
<ellipse cx="761" cy="99.5" rx="1.8" ry="2" fill="#FFFFFF" stroke="#1a1a1a" stroke-width="1.0" />
<path d="M760,86 L764,98" stroke="#1a1a1a" stroke-width="1.2"/>
<path d="M419.5,256 L428.5,254.5 L429.5,263 Q436,266 438.5,276 Q441,290 434,300 Q431,303 429,304 L429,316 L421.5,318 L421,307 Q411,303 408.5,290 Q406.5,277 412,268 Q415,264 419.5,263 Z" fill="#ffffff" stroke="#1a1a1a" stroke-width="1.2" stroke-linejoin="round" />
<ellipse cx="423.5" cy="287" rx="11.8" ry="15.5" fill="#ffffff" stroke="#1a1a1a" stroke-width="1.3" transform="rotate(-8 423.5 287)"/>
<ellipse cx="423" cy="287.5" rx="10" ry="13.5" fill="none" stroke="#1a1a1a" stroke-width="0.8" transform="rotate(-8 423 287.5)"/>
<path d="M443,248.8 L458,235 L467.7,236.4 L468,242 L474.6,246 L483,262.6 L484.2,279 L478.7,290 L469,293 L467.7,297 L460.8,295.6 L447,281.9 L441.6,265.3 Z" fill="#ffffff" stroke="#1a1a1a" stroke-width="1.2" stroke-linejoin="round" />
<path d="M468,242 Q484,252 484.2,279 M467.7,292 L469,293" stroke="#1a1a1a" stroke-width="0.9" fill="none"/>
<ellipse cx="461.5" cy="266" rx="8.5" ry="12" fill="#ffffff" stroke="#1a1a1a" stroke-width="1.2" transform="rotate(-15 461.5 266)"/>
<path d="M502,231 Q514,227 518,235 Q520,244 512,250 L504,251 Z" fill="#D8D8D8" stroke="#1a1a1a" stroke-width="1.5" stroke-linejoin="round" />
<ellipse cx="502.5" cy="241" rx="6.3" ry="9.8" fill="#F4F4F4" stroke="#1a1a1a" stroke-width="1.5" />
<ellipse cx="502.5" cy="241.5" rx="2.8" ry="4.2" fill="#ffffff" stroke="#1a1a1a" stroke-width="1" />
<ellipse cx="537" cy="223.5" rx="21.5" ry="28.5" fill="#f6f6f6" stroke="#1a1a1a" stroke-width="1.5" transform="rotate(-10 537 223.5)"/>
<ellipse cx="535.5" cy="224" rx="18" ry="24.5" fill="none" stroke="#1a1a1a" stroke-width="1.1" transform="rotate(-10 535.5 224)"/>
<ellipse cx="535.5" cy="224" rx="14.5" ry="20" fill="none" stroke="#1a1a1a" stroke-width="1.2" transform="rotate(-10 535.5 224)"/>
<ellipse cx="535.5" cy="224" rx="11" ry="15.5" fill="none" stroke="#1a1a1a" stroke-width="1.2" transform="rotate(-10 535.5 224)"/>
<ellipse cx="535.5" cy="224" rx="8" ry="11" fill="none" stroke="#1a1a1a" stroke-width="1.1" transform="rotate(-10 535.5 224)"/>
<ellipse cx="535.5" cy="224" rx="5" ry="7" fill="none" stroke="#1a1a1a" stroke-width="1.1" transform="rotate(-10 535.5 224)"/>
<ellipse cx="533.5" cy="224.5" rx="2.5" ry="3.5" fill="#ffffff" stroke="#1a1a1a" stroke-width="1" />
<path d="M525,208 Q520,224 528,240" stroke="#1a1a1a" stroke-width="1.4" fill="none"/>
<line x1="330.5" y1="534.5" x2="330.5" y2="561.5" stroke="#2a2a2a" stroke-width="1"/>
<path d="M285,566 L291,561.5 L304.5,552.5 L309,553.3 L330,561.5 L348,578 L354,588.5 L358.5,602 L358.5,620 L354,632 L345,643 L335,647.6 L324,644 L297.6,628.8 L286,617.5 L282.6,595 Z" fill="#f2f2f2" stroke="#1a1a1a" stroke-width="1.3" stroke-linejoin="round" />
<path d="M291,561.5 L304.5,552.5 L309,553.3 L330,561.5 L348,578 L354,588.5 L350,590 L343,581 L326,566.5 L306,559 L295,566 Z" fill="#e7e7e7" stroke="#1a1a1a" stroke-width="1" stroke-linejoin="round" />
<path d="M336,600 L350,590 L354,588.5 L358.5,602 L358.5,620 L354,632 L345,643 L338,640 Q342,620 336,600 Z" fill="#dadada" stroke="#1a1a1a" stroke-width="1" stroke-linejoin="round" />
<ellipse cx="309" cy="604" rx="24" ry="33.5" fill="#ffffff" stroke="#1a1a1a" stroke-width="1.2" transform="rotate(-22 309 604)"/>
<ellipse cx="311" cy="603" rx="21" ry="30.5" fill="none" stroke="#1a1a1a" stroke-width="0.9" transform="rotate(-22 311 603)"/>
<path d="M316,577 L323,574 L324,579 L317,582 Z M300,628 L310,632 L309,636 L299,632 Z M312,634 L322,638 L321,642 L311,638 Z" fill="#8A8A8A" stroke="#1a1a1a" stroke-width="0.9" stroke-linejoin="round" />
<path d="M336,596 L352,588 M338,604 L355,597 M340,614 L356,608 M287,585 Q292,572 305,566 M341,582 L347,584 L346,590" stroke="#1a1a1a" stroke-width="0.9" fill="none"/>
<path d="M286,584 L294,576 L298,580 L290,588 Z" fill="#BBBBBB" stroke="#1a1a1a" stroke-width="0.8" stroke-linejoin="round" />
<line x1="403.4" y1="491" x2="403.4" y2="517.8" stroke="#2a2a2a" stroke-width="1"/>
<path d="M382,522 L410,514 L411,519 L417,515 L426,518 L426,523 L420,526 L424,540 L428,582 L420,590 L410,595 Z" fill="#f0f0f0" stroke="#1a1a1a" stroke-width="1.1" stroke-linejoin="round" />
<path d="M410,514 L425.7,516 L425.7,523 L418,525 L412,523 Z" fill="#e7e7e7" stroke="#1a1a1a" stroke-width="1" stroke-linejoin="round" />
<ellipse cx="392" cy="560" rx="25.5" ry="39" fill="#fafafa" stroke="#1a1a1a" stroke-width="1.3" transform="rotate(-23 392 560)"/>
<ellipse cx="393" cy="560" rx="22" ry="35.5" fill="none" stroke="#1a1a1a" stroke-width="0.9" transform="rotate(-23 393 560)"/>
<ellipse cx="395" cy="559" rx="18" ry="30" fill="#f2f2f2" stroke="#1a1a1a" stroke-width="0.9" transform="rotate(-23 395 559)"/>
<ellipse cx="399" cy="555" rx="12.5" ry="19.5" fill="#ffffff" stroke="#1a1a1a" stroke-width="1.2" transform="rotate(-23 399 555)"/>
<path d="M406,572 L414,568 L417,573 L410,577 Z M415,580 L421,576 L423,583 L417,587 Z" fill="#BBBBBB" stroke="#1a1a1a" stroke-width="0.9" stroke-linejoin="round" />
<line x1="496.3" y1="438.4" x2="496.3" y2="463.8" stroke="#2a2a2a" stroke-width="1"/>
<path d="M512.5,462.5 L577,423" stroke="#1a1a1a" stroke-width="2.6" fill="none"/><path d="M512.5,462.5 L577,423" stroke="#fff" stroke-width="0.8" fill="none"/>
<rect x="576" y="418.5" width="7" height="5" fill="#ffffff" stroke="#1a1a1a" stroke-width="1" transform="rotate(-30 579 421)"/>
<path d="M542.5,470 L607,434" stroke="#1a1a1a" stroke-width="2.6" fill="none"/><path d="M542.5,470 L607,434" stroke="#fff" stroke-width="0.8" fill="none"/>
<rect x="606" y="429.5" width="7" height="5" fill="#ffffff" stroke="#1a1a1a" stroke-width="1" transform="rotate(-30 609 432)"/>
<path d="M547.5,477.5 L606.5,447" stroke="#1a1a1a" stroke-width="2.6" fill="none"/><path d="M547.5,477.5 L606.5,447" stroke="#fff" stroke-width="0.8" fill="none"/>
<rect x="605.5" y="442.5" width="7" height="5" fill="#ffffff" stroke="#1a1a1a" stroke-width="1" transform="rotate(-30 608.5 445)"/>
<path d="M545,507.5 L606.5,475.5" stroke="#1a1a1a" stroke-width="2.6" fill="none"/><path d="M545,507.5 L606.5,475.5" stroke="#fff" stroke-width="0.8" fill="none"/>
<rect x="605.5" y="471.0" width="7" height="5" fill="#ffffff" stroke="#1a1a1a" stroke-width="1" transform="rotate(-30 608.5 473.5)"/>
<path d="M521,470 Q536,464 546,472 Q552,482 550,496 Q547,510 536,513 L528,514 Z" fill="#F6F6F6" stroke="#1a1a1a" stroke-width="1.3" stroke-linejoin="round" />
<path d="M528,471 Q534,490 530,513" stroke="#1a1a1a" stroke-width="1" fill="none"/>
<path d="M454.4,489 L501.6,464.6 L516.2,466.3 Q530,474 533,490 L532.5,515 L487,546 Q478,520 466,500 Z" fill="#F4F4F4" stroke="#1a1a1a" stroke-width="1.4" stroke-linejoin="round" />
<path d="M466,500 L516.2,471 M470,510 L523,482 M478,528 L530,500 M484,540 L532,512" stroke="#1a1a1a" stroke-width="0.9" fill="none"/>
<path d="M487,546 L532.5,515" stroke="#1a1a1a" stroke-width="2.6" fill="none"/>
<path d="M459,490 L505,466 M516.2,466.3 Q527,474 528,490 L528,512" stroke="#1a1a1a" stroke-width="0.9" fill="none"/>
<path d="M436.5,503.7 Q442,496 451,497 Q462,498 467.4,503.7 L470.7,547.6 Q466,549 462.5,546 L449.5,534.6 Q438,528 437.3,520 Z" fill="#F2F2F2" stroke="#1a1a1a" stroke-width="1.4" stroke-linejoin="round" />
<path d="M442,506 Q446,501 452,501.5 Q460,502.5 463,507 L465,540 Q463,542 459,539 L449,531 Q442,526 442,518 Z" fill="#FFFFFF" stroke="#1a1a1a" stroke-width="1.2" stroke-linejoin="round" />
<path d="M466,503 Q476,500 481,512 Q485,530 482,548 Q478,554 472,552 Q474,530 470,512 Q468,506 466,503 Z" fill="#E8E8E8" stroke="#1a1a1a" stroke-width="1.3" stroke-linejoin="round" />
<polyline points="308.5,738.4 308.5,781" fill="none" stroke="#2a2a2a" stroke-width="1" />
<polyline points="393,813 422,829 442,818 457,827" fill="none" stroke="#2a2a2a" stroke-width="1" />
<polyline points="506,808 483,818" fill="none" stroke="#2a2a2a" stroke-width="1" />
<polyline points="379.5,841.8 379.5,871" fill="none" stroke="#2a2a2a" stroke-width="1" />
<polyline points="338,894 364,879" fill="none" stroke="#2a2a2a" stroke-width="1" />
<polyline points="401.4,829.2 401.4,893" fill="none" stroke="#2a2a2a" stroke-width="1" />
<polyline points="401.4,706 401.4,749.5" fill="none" stroke="#2a2a2a" stroke-width="1" />
<polyline points="459.3,713 459.3,746.3" fill="none" stroke="#2a2a2a" stroke-width="1" />
<polyline points="486,660 486,727.5" fill="none" stroke="#2a2a2a" stroke-width="1" />
<path d="M284,793.3 L304.4,782.3 L321.6,780.7 L332.6,783.9 L337.3,777.6 L373.3,757.3 L385.8,754.1 L392,746.3 L404.5,743.2 L420.2,740 L432.7,733.8 L445.2,730.7 L464,721.3 L489,719.7 L495.3,721.3 L503.1,741.6 L506.2,746.3 L498.4,752.6 L485.9,762 L457.7,774.5 L445.2,783.9 L429.6,790.1 L417.1,808.9 L401.4,824.5 L373.3,840.2 L360.7,849.6 L348.2,868.4 L338.8,874.6 L326.3,874.6 L301.3,865.2 L285.6,846.4 L281,824.5 L281.9,802.6 Z" fill="#fafafa" stroke="#1a1a1a" stroke-width="1.3" stroke-linejoin="round" />
<path d="M392,746.3 L404.5,743.2 L420.2,740 L432.7,733.8 L445.2,730.7 L464,721.3 L489,719.7 L495.3,721.3 L503.1,741.6 L506.2,746.3 L498.4,752.6 L485.9,762 L457.7,774.5 L445.2,783.9 L430,789 L424,772 L410,760 Z" fill="#f6f6f6" stroke="#1a1a1a" stroke-width="1.1" stroke-linejoin="round" />
<path d="M428,737 l5,-2 l0,10 l-5,2 Z" fill="#FFFFFF" stroke="#1a1a1a" stroke-width="0.9"/>
<path d="M436,733 l4,-2 l0,12 l-4,2 Z" fill="#FFFFFF" stroke="#1a1a1a" stroke-width="0.9"/>
<path d="M446,729 l5,-2 l0,9 l-5,2 Z" fill="#FFFFFF" stroke="#1a1a1a" stroke-width="0.9"/>
<path d="M466,718 l4,-2 l0,14 l-4,2 Z" fill="#FFFFFF" stroke="#1a1a1a" stroke-width="0.9"/>
<path d="M472,716 l4,-2 l0,16 l-4,2 Z" fill="#FFFFFF" stroke="#1a1a1a" stroke-width="0.9"/>
<path d="M478,719 l4,-2 l0,13 l-4,2 Z" fill="#FFFFFF" stroke="#1a1a1a" stroke-width="0.9"/>
<path d="M490,717 l4,-2 l0,18 l-4,2 Z" fill="#FFFFFF" stroke="#1a1a1a" stroke-width="0.9"/>
<path d="M496,720 l3.5,-2 l0,15 l-3.5,2 Z" fill="#FFFFFF" stroke="#1a1a1a" stroke-width="0.9"/>
<path d="M416,756 L440,746 L462,738 L486,730 L500,726 M420,764 L446,754 L470,746 L494,738 M430,770 L432,756 M452,762 L452,748 M470,756 L470,742 M404,760 Q398,752 404,746" stroke="#1a1a1a" stroke-width="0.9" fill="none"/>
<path d="M444,777 L494,755 L495,758 L446,780 Z" fill="#dedede" stroke="#1a1a1a" stroke-width="0.8" stroke-linejoin="round" />
<path d="M407,748 Q416,744 422,752 Q418,760 410,758 Q402,754 407,748 Z" fill="#ffffff" stroke="#1a1a1a" stroke-width="1" stroke-linejoin="round" />
<path d="M337.3,777.6 L373.3,757.3 L385.8,754.1 Q412,754 420,775 Q424,795 417.1,808.9 L401.4,824.5 L373.3,840.2 L360.7,849.6 L355,830 L350,800 Z" fill="#f8f8f8" stroke="#1a1a1a" stroke-width="1.1" stroke-linejoin="round" />
<path d="M358,808 L416,786 Q420,800 417.1,808.9 L401.4,824.5 L373.3,840.2 L360.7,849.6 L357,830 Z" fill="#eeeeee" stroke="#1a1a1a" stroke-width="0.8" stroke-linejoin="round" />
<path d="M342,781 L374,762 L392,762 L402,770 L372,788 L352,792 Z" fill="#f0f0f0" stroke="#1a1a1a" stroke-width="0.9" stroke-linejoin="round" />
<path d="M352,792 L372,788 L402,770 M358,808 L416,786 M362,822 L414,800" stroke="#1a1a1a" stroke-width="0.9" fill="none"/>
<path d="M385.8,754.1 Q404,750 416,762 L420,775 Q410,762 394,761 Z" fill="#e7e7e7" stroke="#1a1a1a" stroke-width="0.9" stroke-linejoin="round" />
<path d="M284,793.3 L304.4,782.3 L321.6,780.7 L332.6,783.9 L348,796 L358,812 L360,830 L356,850 L346,868 L338.8,874.6 L326.3,874.6 L301.3,865.2 L285.6,846.4 L281,824.5 L281.9,802.6 Z" fill="#f8f8f8" stroke="#1a1a1a" stroke-width="1.3" stroke-linejoin="round" />
<path d="M332.6,783.9 L340,779 L352,788 L360,800 L364,818 L362,836 L360.7,849.6" stroke="#1a1a1a" stroke-width="1" fill="none"/>
<path d="M346,796 L356,804 L362,818 L362,836 L356,852 L346,866 L344,860 L352,842 L354,822 L350,806 Z" fill="#eaeaea" stroke="#1a1a1a" stroke-width="0.9" stroke-linejoin="round" />
<ellipse cx="315" cy="835.5" rx="28" ry="39" fill="#fefefe" stroke="#1a1a1a" stroke-width="1.3" transform="rotate(-12 315 835.5)"/>
<ellipse cx="316" cy="835" rx="25" ry="35.5" fill="none" stroke="#1a1a1a" stroke-width="0.9" transform="rotate(-12 316 835)"/>
<path d="M297,806 L306,800 L308,806 L300,810 M298,850 L314,842 M300,856 L316,848 M318,862 L334,858 M322,808 L328,832 M336,820 Q340,836 334,852" stroke="#1a1a1a" stroke-width="1" fill="none"/>
<path d="M350,838 L358,834 L358,846 L351,850 Z M348,856 L354,852 L354,862 L349,865 Z" fill="#b3b3b3" stroke="#1a1a1a" stroke-width="0.8" stroke-linejoin="round" />
<path d="M435,843 L482,816 L483,829 L436,856 Z" fill="#ffffff" stroke="#1a1a1a" stroke-width="1.1" stroke-linejoin="round" />
<path d="M359,875 L387,859 L398,866 L371,882 Z" fill="#ffffff" stroke="#1a1a1a" stroke-width="1.1" stroke-linejoin="round" />
<polyline points="508,611 492,620" fill="none" stroke="#2a2a2a" stroke-width="1" />
<polyline points="510,648 495,656" fill="none" stroke="#2a2a2a" stroke-width="1" />
<polyline points="463,649.4 463,662" fill="none" stroke="#2a2a2a" stroke-width="1" />
<polyline points="385,675 376,679" fill="none" stroke="#2a2a2a" stroke-width="1" />
<polyline points="396,702 378,712" fill="none" stroke="#2a2a2a" stroke-width="1" />
<path d="M385.6,672 L388.1,667.5 L392.5,663.2 L396.3,654.4 L398.8,653.1 L405,653.8 L409.4,656.3 L420,661.3 L420,663.8 L415.7,664.4 L415,673.8 L413.2,675 L410,672.5 L397.5,677.6 L392.5,677 L387.5,677 Z" fill="#FAFAFA" stroke="#1a1a1a" stroke-width="1.6" stroke-linejoin="round" />
<path d="M392.5,663.2 L405,658 L410,660 L410,672.5 M396,668 L407,663 M398.8,653.1 L399,658 M405,653.8 L405,657 M409.4,656.3 L415.7,664.4" stroke="#111" stroke-width="1.3" fill="none"/>
<ellipse cx="389" cy="672.5" rx="2.6" ry="4" fill="#FFFFFF" stroke="#1a1a1a" stroke-width="1.4" />
<path d="M397,656 L401,654 L402,658 L398,659 Z" fill="#333333" stroke="#1a1a1a" stroke-width="0.8" stroke-linejoin="round" />
<path d="M394,690 L398.5,686.5 L403.5,685 L408.8,688 L408.8,701 L399,705.4 L394,702 Z" fill="#FAFAFA" stroke="#1a1a1a" stroke-width="1.5" stroke-linejoin="round" />
<path d="M394,690 L399,693 L408.8,688 M399,693 L399,705.4" stroke="#111" stroke-width="1.2" fill="none"/>
<path d="M397,689.5 L405,686.5 M398.5,691 L406.5,688" stroke="#888" stroke-width="0.7" fill="none"/>
<path d="M438,669 L448,662 L462,661 L466,665 L475,667 L478,672 L478,700 L472,706 L462,712 L444,711 L440,706 Z" fill="#eeeeee" stroke="#1a1a1a" stroke-width="1.2" stroke-linejoin="round" />
<path d="M438,669 L448,662 L462,661 L468,668 L460,672 L442,674 Z" fill="#f6f6f6" stroke="#1a1a1a" stroke-width="1" stroke-linejoin="round" />
<path d="M442,676 L458,674 L459,688 L443,690 Z M442,692 L458,690 L459,708 L444,709 Z" fill="#ffffff" stroke="#1a1a1a" stroke-width="1" stroke-linejoin="round" />
<path d="M450,676 L450,709 M445,682 L456,681 M445,698 L456,697 M462,672 L462,710 M468,668 L468,705 M472,671 L472,704" stroke="#1a1a1a" stroke-width="1" fill="none"/>
<path d="M444,680 L448,680 L448,686 L444,686 Z M452,679 L456,679 L456,685 L452,685 Z M444,696 L448,696 L448,703 L444,703 Z M452,695 L456,695 L456,702 L452,702 Z" fill="#555555" stroke="#1a1a1a" stroke-width="0.6" stroke-linejoin="round" />
<path d="M486,624 L486,640 L489,643 L490,643 L491,640 L491,624 Z" fill="#f2f2f2" stroke="#1a1a1a" stroke-width="1" stroke-linejoin="round" />
<path d="M486,627 L491,626 M486,630 L491,629 M486,633 L491,632 M486,636 L491,635 M486,639 L491,638" stroke="#333" stroke-width="0.8"/>
<ellipse cx="488.5" cy="621" rx="4.3" ry="3.3" fill="#eeeeee" stroke="#1a1a1a" stroke-width="1.1" />
<path d="M486,621 L491,621" stroke="#333" stroke-width="0.8"/>
<path d="M474,654 L480,650 L486,653 L492,652 L495,655 L495,663 L489,666 L485,664 L482,656 L476,659 L473,658 Z" fill="#e7e7e7" stroke="#1a1a1a" stroke-width="1.1" stroke-linejoin="round" />
<path d="M485,655 L495,655 L495,663 L489,666 L486,664 Z" fill="#f6f6f6" stroke="#1a1a1a" stroke-width="0.9" stroke-linejoin="round" />
<ellipse cx="489" cy="654.5" rx="2" ry="1.2" fill="#a6a6a6" stroke="#1a1a1a" stroke-width="0.6" />
<path d="M394,897 L396,894 L408,892.5 L409,896 L409,909 L399,913 L395,910 Z" fill="#FAFAFA" stroke="#1a1a1a" stroke-width="1.5" stroke-linejoin="round" />
<path d="M394,897 L396,894 L408,892.5 L406,896 Z" fill="#f6f6f6" stroke="#1a1a1a" stroke-width="0.8" stroke-linejoin="round" />
<path d="M406,896 L406,911 M400,908 L400,912 L403,911" stroke="#1a1a1a" stroke-width="0.9" fill="none"/>
<polyline points="377.5,917.5 393,909" fill="none" stroke="#2a2a2a" stroke-width="1" />
<polyline points="377.5,946 386,942" fill="none" stroke="#2a2a2a" stroke-width="1" />
<path d="M387,936 L391,932 L396,930 L398,924 L403,921 L406,923 L411,923 L415,926 L420,929 L420.5,933 L417,936 L416,941 L412,942 L406,940 L400,942 L397,945 L392,946 L387,943 Z" fill="#F4F4F4" stroke="#1a1a1a" stroke-width="1.6" stroke-linejoin="round" />
<path d="M398,926 L406,924 L410,928 L406,935 L399,935 Z" fill="#f8f8f8" stroke="#1a1a1a" stroke-width="0.9" stroke-linejoin="round" />
<ellipse cx="391.5" cy="941" rx="3.5" ry="4" fill="#eeeeee" stroke="#1a1a1a" stroke-width="1.1" />
<ellipse cx="391.5" cy="941" rx="1.5" ry="1.8" fill="#a6a6a6" stroke="#1a1a1a" stroke-width="0.5" />
<path d="M406,924 L407,941 M412,926 L412,942 M415,930 L418,939" stroke="#1a1a1a" stroke-width="1" fill="none"/>
<polyline points="595,572.4 595,623" fill="none" stroke="#2a2a2a" stroke-width="1" />
<path d="M507.8,678.9 L511.6,672 L521.3,668.2 L606.7,620.7 L616.4,619.7 L626,623.6 L639.7,631.3 L647.4,648.8 L649.4,664.3 L647.4,683.7 L635.8,695.4 L608.6,714.8 L581.5,730.3 L560.1,742 L542.7,743.9 L523.3,740 L511.6,730.3 L507.8,712.8 L506.8,691.5 Z" fill="#f8f8f8" stroke="#1a1a1a" stroke-width="1.3" stroke-linejoin="round" />
<path d="M528,668 L606,626 L632,628 L636,634 L555,679 L549,681 Z" fill="#fafafa" stroke="#1a1a1a" stroke-width="1" stroke-linejoin="round" />
<path d="M553,682 L636,637 M556,689 L640,644" stroke="#1a1a1a" stroke-width="0.9" fill="none"/>
<path d="M556,690 L640,645 L646,660 L645,680 L635.8,695.4 L608.6,714.8 L581.5,730.3 L566,738 Q562,714 556,690 Z" fill="#e8e8e8" stroke="#1a1a1a" stroke-width="1" stroke-linejoin="round" />
<path d="M574,732.0 Q578,700 592,676" stroke="#2a2a2a" stroke-width="2.6" fill="none"/><path d="M584,726.5 Q588,694 601,671" stroke="#2a2a2a" stroke-width="2.6" fill="none"/><path d="M594,721.0 Q598,688 610,666" stroke="#2a2a2a" stroke-width="2.6" fill="none"/><path d="M604,715.5 Q608,682 619,661" stroke="#2a2a2a" stroke-width="2.6" fill="none"/><path d="M614,710.0 Q618,676 628,656" stroke="#2a2a2a" stroke-width="2.6" fill="none"/><path d="M624,704.5 Q628,670 637,651" stroke="#2a2a2a" stroke-width="2.6" fill="none"/>
<path d="M578,731.0 Q582,700 596,675" stroke="#f0f0f0" stroke-width="1" fill="none"/><path d="M588,725.5 Q592,694 605,670" stroke="#f0f0f0" stroke-width="1" fill="none"/><path d="M598,720.0 Q602,688 614,665" stroke="#f0f0f0" stroke-width="1" fill="none"/><path d="M608,714.5 Q612,682 623,660" stroke="#f0f0f0" stroke-width="1" fill="none"/><path d="M618,709.0 Q622,676 632,655" stroke="#f0f0f0" stroke-width="1" fill="none"/><path d="M628,703.5 Q632,670 641,650" stroke="#f0f0f0" stroke-width="1" fill="none"/>
<path d="M616.4,619.7 L626,623.6 L639.7,631.3 L644,640 L636,641 L628,630 Z" fill="#eeeeee" stroke="#1a1a1a" stroke-width="1" stroke-linejoin="round" />
<path d="M511.6,677.9 Q528,672 544.6,674 Q556,680 558.2,691.5 Q561,705 560,718.6 Q558,732 552.4,738 Q543,742 533,740 Q520,735 515.5,726.4 Q509,714 509.7,701.2 Q509,686 511.6,677.9 Z" fill="#fdfdfd" stroke="#1a1a1a" stroke-width="1.2" stroke-linejoin="round" />
<path d="M532,690 L540,682 M531,700 Q534,690 540,686 M528,720 L552,708 M527,726 L548,715 M548,730 L552,736" stroke="#1a1a1a" stroke-width="1" fill="none"/>
<line x1="501" y1="726" x2="530" y2="708" stroke="#333" stroke-width="0.9"/>
<path d="M741,472 Q762,480 777.6,500" stroke="#1a1a1a" stroke-width="7.5" fill="none"/><path d="M741,472 Q762,480 777.6,500" stroke="#fafafa" stroke-width="5.3" fill="none"/>
<path d="M782.8,504.6 Q797,518 797,530 Q795,544 763.4,551.5" stroke="#1a1a1a" stroke-width="7.5" fill="none"/><path d="M782.8,504.6 Q797,518 797,530 Q795,544 763.4,551.5" stroke="#fafafa" stroke-width="5.3" fill="none"/>
<path d="M678,448 L690,438 L722,452 L744,466 L746,474 L741,482 L730,480 L700,466 Z" fill="#f6f6f6" stroke="#1a1a1a" stroke-width="1.2" stroke-linejoin="round" />
<path d="M722,454 L742,466 L743,478 L738,481 L720,472 Z" fill="#777777" stroke="#1a1a1a" stroke-width="1" stroke-linejoin="round" />
<path d="M726,457 L723,470 M731,460 L728,474 M736,463 L733,477" stroke="#ddd" stroke-width="1.2"/>
<path d="M672,434 L678,424 L686,420 L697,422 L700,428 L692,440 L684,452 L676,456 L671,450 Z" fill="#f6f6f6" stroke="#1a1a1a" stroke-width="1.2" stroke-linejoin="round" />
<path d="M676,432 L686,424 L694,426 L686,440 L678,446 Z" fill="#ececec" stroke="#1a1a1a" stroke-width="0.9" stroke-linejoin="round" />
<g transform="rotate(33 663 434)"><rect x="663" y="432" width="17" height="4.5" rx="2" fill="#f8f8f8" stroke="#1a1a1a" stroke-width="1"/></g>
<g transform="rotate(28 676 423)"><rect x="676" y="421" width="16" height="4.5" rx="2" fill="#f8f8f8" stroke="#1a1a1a" stroke-width="1"/></g>
<polyline points="737.6,482 737.6,497.6" fill="none" stroke="#2a2a2a" stroke-width="1" />
<polyline points="700.7,525.8 700.7,573" fill="none" stroke="#2a2a2a" stroke-width="1" />
<path d="M701,585.5 Q692,590 684,592 Q677,596 676,606 Q675,618 668,625.8" stroke="#1a1a1a" stroke-width="6" fill="none"/><path d="M701,585.5 Q692,590 684,592 Q677,596 676,606 Q675,618 668,625.8" stroke="#f6f6f6" stroke-width="4" fill="none"/>
<path d="M761,548.8 L766,557.5 L718.8,589 L708.3,572.4 Z" fill="#fafafa" stroke="#1a1a1a" stroke-width="1.2" stroke-linejoin="round" />
<path d="M757,551 L762,548 L767,556 L762,560 Z" fill="#f8f8f8" stroke="#1a1a1a" stroke-width="1.1" stroke-linejoin="round" />
<ellipse cx="705" cy="587" rx="9.5" ry="14" fill="#fafafa" stroke="#1a1a1a" stroke-width="1.3" transform="rotate(-30 705 587)"/>
<ellipse cx="703.5" cy="587.5" rx="6.5" ry="10" fill="none" stroke="#1a1a1a" stroke-width="1.0" transform="rotate(-30 703.5 587.5)"/>
<ellipse cx="702" cy="586.5" rx="3.5" ry="5" fill="#ffffff" stroke="#1a1a1a" stroke-width="1.0" transform="rotate(-30 702 586.5)"/>
<path d="M668,624 Q656,619 644,621 M668,626.5 Q654,628 646,631" stroke="#1a1a1a" stroke-width="1.3" fill="none"/>
<ellipse cx="668" cy="625.8" rx="2.2" ry="2.2" fill="#ffffff" stroke="#1a1a1a" stroke-width="1" />
<g transform="rotate(-28 742 620)"><rect x="720" y="618" width="19" height="4.2" fill="#f4f4f4" stroke="#1a1a1a" stroke-width="1"/><line x1="722" y1="618" x2="723" y2="622.2" stroke="#333" stroke-width="0.8"/><line x1="725" y1="618" x2="726" y2="622.2" stroke="#333" stroke-width="0.8"/><line x1="728" y1="618" x2="729" y2="622.2" stroke="#333" stroke-width="0.8"/><line x1="731" y1="618" x2="732" y2="622.2" stroke="#333" stroke-width="0.8"/><line x1="734" y1="618" x2="735" y2="622.2" stroke="#333" stroke-width="0.8"/><line x1="737" y1="618" x2="738" y2="622.2" stroke="#333" stroke-width="0.8"/><rect x="739" y="616" width="5" height="8" rx="1.5" fill="#eeeeee" stroke="#1a1a1a" stroke-width="1"/></g>
<polyline points="759,638 744,626" fill="none" stroke="#2a2a2a" stroke-width="1" />
<polyline points="694,644 720,630" fill="none" stroke="#2a2a2a" stroke-width="1" />
<path d="M670.6,635.6 L675.6,633.75 Q682,644 689.4,645 L693.1,643.75 L693.1,658.75 L688.75,667.5 L677.5,686.25 L672.5,688.75 L655.6,677.5 L664.4,667.5 L666.9,650 Z" fill="#f0f0f0" stroke="#1a1a1a" stroke-width="1.2" stroke-linejoin="round" />
<path d="M670.6,635.6 L675.6,633.75 Q682,644 689.4,645 L688,650 Q680,648 672,641 Z" fill="#e8e8e8" stroke="#1a1a1a" stroke-width="1" stroke-linejoin="round" />
<path d="M670,655 L682,653 L684,665 L672,667 Z" fill="#fafafa" stroke="#1a1a1a" stroke-width="1" stroke-linejoin="round" />
<ellipse cx="675.5" cy="659" rx="2.3" ry="2.3" fill="#ffffff" stroke="#1a1a1a" stroke-width="0.9" />
<path d="M659,676 L670,670 L686,672 L676,684 L672,686 Z" fill="#bfbfbf" stroke="#1a1a1a" stroke-width="0.9" stroke-linejoin="round" />
<path d="M661,678 L668,674 M664,682 L672,677 M676,676 L682,673 M689,650 L681,680 M668,666 L684,670" stroke="#1a1a1a" stroke-width="1" fill="none"/>
<polyline points="709.4,668.6 692.8,656" fill="none" stroke="#2a2a2a" stroke-width="1" />
<polyline points="510,854 494,862" fill="none" stroke="#2a2a2a" stroke-width="1" />
<polyline points="576.1,830 576.1,845" fill="none" stroke="#2a2a2a" stroke-width="1" />
<polyline points="558.6,851.8 558.6,881" fill="none" stroke="#2a2a2a" stroke-width="1" />
<polyline points="542.8,946.4 510,929.5" fill="none" stroke="#2a2a2a" stroke-width="1" />
<polyline points="505.6,975.3 478.6,975.3" fill="none" stroke="#2a2a2a" stroke-width="1" />
<polyline points="438,971.2 456,980" fill="none" stroke="#2a2a2a" stroke-width="1" />
<path d="M423.3,892 L451.5,877.6 L455.5,874.3 L483,859.9 L492.3,862.5 L514.6,874.3 L519.9,880.2 L521.2,884.2 L459.4,917 L454.2,914.4 L452.9,909.1 L446.3,907.8 L439.7,914.4 L437.1,909.1 L439.7,900 L431.8,898.6 L424,895.3 Z" fill="#F6F6F6" stroke="#1a1a1a" stroke-width="1.3" stroke-linejoin="round" />
<path d="M459.4,917 L521.2,884.2" stroke="#1a1a1a" stroke-width="2.2" fill="none"/>
<path d="M455.5,874.3 L458,880 L456,887 M462,884 L498,866 M486,862 L516,878 M450,890 L504,884 M441,898 L470,886 L488,878 M456,904 L516,878 M462,910 L519,881 M445,900 L451,905 M433,896 L440,893" stroke="#1a1a1a" stroke-width="0.9" fill="none"/>
<path d="M482,874 L489,871 L494,874 L487,877.5 Z M492,881 L499,878 L504,881 L497,884.5 Z M448,893 L455,890 L459,893 L452,896 Z" fill="#FFFFFF" stroke="#1a1a1a" stroke-width="1" stroke-linejoin="round" />
<path d="M465,894 L488,882 L490,884 L467,896 Z" fill="#444444" stroke="#1a1a1a" stroke-width="0.6" stroke-linejoin="round" />
<path d="M476,902 L482,899 L484,902 L478,905 Z" fill="#FFFFFF" stroke="#1a1a1a" stroke-width="0.8" stroke-linejoin="round" />
<path d="M556,843 L559,841 L586,851 L593,855 L595,861 L592,864 L586,862 L576,854 L558,848 Z" fill="#e4e4e4" stroke="#1a1a1a" stroke-width="1.1" stroke-linejoin="round" />
<path d="M556,843 L559,841 L560,846 L558,848 Z" fill="#666666" stroke="#1a1a1a" stroke-width="0.8" stroke-linejoin="round" />
<path d="M431,963 L438,960 L440,964 L508,923 L514,913 L563,884 L571,884.5 L572,890 L566,894 L518,921 L512,926 L442,968 L442,975 L434,978 L431,976 Z" fill="#eeeeee" stroke="#1a1a1a" stroke-width="1.1" stroke-linejoin="round" />
<path d="M440,966 L510,925 M516,916 L566,887 M456,960 L506,931 M534,902 L552,892" stroke="#1a1a1a" stroke-width="0.9" fill="none"/>
<path d="M533,904 L553,892 L553,895 L533,907 Z" fill="#555555" stroke="#1a1a1a" stroke-width="0.7" stroke-linejoin="round" />
<ellipse cx="560" cy="886" rx="3" ry="2" fill="#dddddd" stroke="#1a1a1a" stroke-width="0.8" />
<path d="M455,976 Q456,971 462,970 L474,968 Q479,968 479,973 L478,990 Q477,994 472,995 L460,996 Q455,996 455,992 Z" fill="#e7e7e7" stroke="#1a1a1a" stroke-width="1.2" stroke-linejoin="round" />
<path d="M462,970 L474,968 Q479,968 479,973 L478,976 L464,978 Z" fill="#f6f6f6" stroke="#1a1a1a" stroke-width="0.9" stroke-linejoin="round" />
<path d="M470,972 L470,990 M474,971 L474,989" stroke="#1a1a1a" stroke-width="0.9" fill="none"/>
<polyline points="395,1016.4 374,1016.4" fill="none" stroke="#2a2a2a" stroke-width="1" />
<line x1="295" y1="945" x2="295" y2="990" stroke="#2a2a2a" stroke-width="1"/>
<line x1="295" y1="1025" x2="295" y2="1066" stroke="#2a2a2a" stroke-width="1"/>
<path d="M242.5,976.3 Q270,964 300,963 Q340,964 362,990 Q376,1010 373,1030 Q368,1048 348,1056 L346,1038 L340,1030 Q330,1020 318,1016 Q300,1020 280,1016 Q264,1010 262.5,1000 L262.5,987.5 L245,995 Z" fill="#eeeeee" stroke="#1a1a1a" stroke-width="1.3" stroke-linejoin="round" />
<path d="M244,977 Q272,968 300,967 Q336,968 356,990 Q366,1006 364,1026 Q360,1040 348,1048 L346,1038 Q354,1025 352,1008 Q346,992 326,984 Q300,976 270,982 L262.5,987.5 Z" fill="#e5e5e5" stroke="#1a1a1a" stroke-width="1" stroke-linejoin="round" />
<path d="M266,985 L266,998 Q296,1014 326,998 L326,985 Z" fill="#f4f4f4" stroke="#1a1a1a" stroke-width="1.1" stroke-linejoin="round" />
<ellipse cx="296" cy="985" rx="30" ry="10.5" fill="#ffffff" stroke="#1a1a1a" stroke-width="1.2" />
<ellipse cx="296" cy="986.5" rx="27" ry="8.5" fill="none" stroke="#1a1a1a" stroke-width="0.9" />
<rect x="271" y="978" width="4" height="3.2" fill="#ffffff" stroke="#1a1a1a" stroke-width="0.8"/><rect x="281" y="975.5" width="4" height="3.2" fill="#ffffff" stroke="#1a1a1a" stroke-width="0.8"/><rect x="291" y="975" width="4" height="3.2" fill="#ffffff" stroke="#1a1a1a" stroke-width="0.8"/><rect x="301" y="975.5" width="4" height="3.2" fill="#ffffff" stroke="#1a1a1a" stroke-width="0.8"/><rect x="311" y="977" width="4" height="3.2" fill="#ffffff" stroke="#1a1a1a" stroke-width="0.8"/><rect x="319" y="980" width="4" height="3.2" fill="#ffffff" stroke="#1a1a1a" stroke-width="0.8"/><rect x="275" y="1001" width="4" height="3.2" fill="#ffffff" stroke="#1a1a1a" stroke-width="0.8"/><rect x="313" y="1001" width="4" height="3.2" fill="#ffffff" stroke="#1a1a1a" stroke-width="0.8"/>
<path d="M271,1074 L271,1082 Q295,1098 319,1082 L319,1074 Z" fill="#eeeeee" stroke="#1a1a1a" stroke-width="1.2" stroke-linejoin="round" />
<ellipse cx="295" cy="1073.8" rx="24" ry="11" fill="#f6f6f6" stroke="#1a1a1a" stroke-width="1.3" />
<ellipse cx="295" cy="1073.5" rx="18" ry="8.2" fill="none" stroke="#1a1a1a" stroke-width="1.0" />
<ellipse cx="295" cy="1073.5" rx="14" ry="6.3" fill="#e8e8e8" stroke="#1a1a1a" stroke-width="1.0" />
<ellipse cx="295" cy="1074" rx="8" ry="3.8" fill="#ffffff" stroke="#1a1a1a" stroke-width="1.1" />
<ellipse cx="295" cy="1074.5" rx="4" ry="2" fill="#a6a6a6" stroke="#1a1a1a" stroke-width="0.8" />
<line x1="425" y1="69.5" x2="448" y2="56" stroke="#2a2a2a" stroke-width="1"/>
<line x1="405" y1="298.5" x2="425" y2="287" stroke="#2a2a2a" stroke-width="1"/>
<line x1="452" y1="271.5" x2="462" y2="265.7" stroke="#2a2a2a" stroke-width="1"/>
<line x1="525" y1="229.6" x2="535" y2="223.8" stroke="#2a2a2a" stroke-width="1"/>
<line x1="240" y1="176.5" x2="257" y2="166.7" stroke="#2a2a2a" stroke-width="1"/>
<line x1="281" y1="156.5" x2="292" y2="150" stroke="#2a2a2a" stroke-width="1"/>
<line x1="318" y1="129" x2="335" y2="119" stroke="#2a2a2a" stroke-width="1"/>
<line x1="360" y1="105.5" x2="375" y2="96.8" stroke="#2a2a2a" stroke-width="1"/>
<line x1="290" y1="615.8" x2="318" y2="599.9" stroke="#2a2a2a" stroke-width="1"/>
<line x1="390" y1="559.3" x2="402" y2="552.5" stroke="#2a2a2a" stroke-width="1"/>
<line x1="440" y1="530.4" x2="458" y2="520.2" stroke="#2a2a2a" stroke-width="1"/>
<line x1="290" y1="844.8" x2="320" y2="828.3" stroke="#2a2a2a" stroke-width="1"/>
<line x1="520" y1="718" x2="540" y2="707" stroke="#2a2a2a" stroke-width="1"/>
<g fill="#fff" stroke="#2a2a2a" stroke-width="0.95">
<circle cx="61.5" cy="140" r="13.4"/>
<circle cx="62" cy="168.5" r="13.4"/>
<circle cx="61" cy="229" r="13.4"/>
<circle cx="17" cy="278" r="13.4"/>
<circle cx="63" cy="299.5" r="13.4"/>
<circle cx="63" cy="330.5" r="13.4"/>
<circle cx="64" cy="361" r="13.4"/>
<circle cx="64" cy="391" r="13.4"/>
<circle cx="112.5" cy="450.5" r="13.4"/>
<circle cx="113" cy="480" r="13.4"/>
<circle cx="112.5" cy="514" r="13.4"/>
<circle cx="64" cy="499" r="13.4"/>
<circle cx="230.4" cy="581.6" r="13.4"/>
<circle cx="64" cy="699" r="13.4"/>
<circle cx="64" cy="792" r="13.4"/>
<circle cx="20" cy="829.5" r="13.4"/>
<circle cx="64" cy="847" r="13.4"/>
<circle cx="87" cy="908" r="13.4"/>
<circle cx="64" cy="966.5" r="13.4"/>
<circle cx="64" cy="1032.5" r="13.4"/>
<circle cx="211.2" cy="815" r="13.4"/>
<circle cx="218.5" cy="104.5" r="13.4"/>
<circle cx="282.4" cy="353.8" r="13.4"/>
<circle cx="263" cy="216" r="13.4"/>
<circle cx="296" cy="196.5" r="13.4"/>
<circle cx="361" cy="190.5" r="13.4"/>
<circle cx="392.5" cy="172.5" r="13.4"/>
<circle cx="436.5" cy="145.5" r="13.4"/>
<circle cx="477.5" cy="124" r="13.4"/>
<circle cx="511" cy="104" r="13.4"/>
<circle cx="184.5" cy="410" r="13.4"/>
<circle cx="238.4" cy="380.3" r="13.4"/>
<circle cx="429" cy="359" r="13.4"/>
<circle cx="466" cy="337" r="13.4"/>
<circle cx="514.5" cy="309.5" r="13.4"/>
<circle cx="542.5" cy="293" r="13.4"/>
<circle cx="621.9" cy="237.5" r="13.4"/>
<circle cx="672.2" cy="255" r="13.4"/>
<circle cx="736.5" cy="172" r="13.4"/>
<circle cx="765.7" cy="153" r="13.4"/>
<circle cx="330.5" cy="521.6" r="13.4"/>
<circle cx="403.4" cy="477.9" r="13.4"/>
<circle cx="496.3" cy="425" r="13.4"/>
<circle cx="594.4" cy="559.5" r="13.4"/>
<circle cx="700.7" cy="512.4" r="13.4"/>
<circle cx="737.2" cy="510.5" r="13.4"/>
<ellipse cx="737.9" cy="536.2" rx="13.4" ry="13.4"/>
<circle cx="519.5" cy="604.3" r="13.4"/>
<circle cx="463.5" cy="636.3" r="13.4"/>
<circle cx="521.3" cy="640.6" r="13.4"/>
<circle cx="769.6" cy="644.2" r="13.4"/>
<circle cx="721.2" cy="675" r="13.4"/>
<circle cx="365.3" cy="686.3" r="13.4"/>
<circle cx="366" cy="719" r="13.4"/>
<circle cx="308.5" cy="725" r="13.4"/>
<circle cx="519" cy="798.5" r="13.4"/>
<circle cx="521.8" cy="846.9" r="13.4"/>
<circle cx="576.1" cy="816.2" r="13.4"/>
<circle cx="326.5" cy="902" r="13.4"/>
<circle cx="365.6" cy="925.7" r="13.4"/>
<circle cx="365.6" cy="954.5" r="13.4"/>
<circle cx="553.4" cy="955" r="13.4"/>
<circle cx="518.7" cy="975.3" r="13.4"/>
<circle cx="407.7" cy="1016.4" r="13.4"/>
<circle cx="407.7" cy="1078.9" r="13.4"/>
</g>
<g font-family="Liberation Sans, sans-serif" font-weight="bold" font-size="12" fill="#111" text-anchor="middle">
<text x="61.5" y="144.5" font-size="12">1</text>
<text x="62" y="173.0" font-size="12">2</text>
<text x="61" y="233.5" font-size="12">3</text>
<text x="17" y="282.5" font-size="12">7</text>
<text x="63" y="304.0" font-size="12">4</text>
<text x="63" y="335.0" font-size="12">5</text>
<text x="64" y="365.5" font-size="12">6</text>
<text x="64" y="395.5" font-size="12">8</text>
<text x="112.5" y="455.0" font-size="12">9</text>
<text x="113" y="484.5" font-size="12">10</text>
<text x="112.5" y="518.5" font-size="12">11</text>
<text x="64" y="503.5" font-size="12">12</text>
<text x="230.4" y="586.1" font-size="12">21</text>
<text x="64" y="703.5" font-size="12">13</text>
<text x="64" y="796.5" font-size="12">14</text>
<text x="20" y="834.0" font-size="12">19</text>
<text x="64" y="851.5" font-size="12">15</text>
<text x="87" y="912.5" font-size="12">16</text>
<text x="64" y="971.0" font-size="12">17</text>
<text x="64" y="1037.0" font-size="12">18</text>
<text x="211.2" y="819.5" font-size="12">20</text>
<text x="218.5" y="109.0" font-size="12">23</text>
<text x="282.4" y="358.3" font-size="12">22</text>
<text x="263" y="220.5" font-size="12">33</text>
<text x="296" y="201.0" font-size="12">34</text>
<text x="361" y="195.0" font-size="12">24</text>
<text x="392.5" y="177.0" font-size="12">25</text>
<text x="436.5" y="150.0" font-size="12">26</text>
<text x="477.5" y="128.5" font-size="12">27</text>
<text x="511" y="108.5" font-size="12">28</text>
<text x="184.5" y="414.5" font-size="12">31</text>
<text x="238.4" y="384.8" font-size="12">32</text>
<text x="429" y="363.5" font-size="12">29</text>
<text x="466" y="341.5" font-size="12">30</text>
<text x="514.5" y="314.0" font-size="12">35</text>
<text x="542.5" y="297.5" font-size="12">36</text>
<text x="621.9" y="242.0" font-size="12">37</text>
<text x="672.2" y="259.5" font-size="12">38</text>
<text x="736.5" y="176.5" font-size="12">39</text>
<text x="765.7" y="157.5" font-size="12">40</text>
<text x="330.5" y="526.1" font-size="12">41</text>
<text x="403.4" y="482.4" font-size="12">42</text>
<text x="496.3" y="429.5" font-size="12">43</text>
<text x="594.4" y="564.0" font-size="12">50</text>
<text x="700.7" y="516.9" font-size="12">51</text>
<text x="737.2" y="515.0" font-size="12">52</text>
<text x="737.9" y="540.7" font-size="11.5">52A</text>
<text x="519.5" y="608.8" font-size="12">48</text>
<text x="463.5" y="640.8" font-size="12">47</text>
<text x="521.3" y="645.1" font-size="12">49</text>
<text x="769.6" y="648.7" font-size="12">48</text>
<text x="721.2" y="679.5" font-size="12">53</text>
<text x="365.3" y="690.8" font-size="12">45</text>
<text x="366" y="723.5" font-size="12">46</text>
<text x="308.5" y="729.5" font-size="12">44</text>
<text x="519" y="803.0" font-size="12">57</text>
<text x="521.8" y="851.4" font-size="12">58</text>
<text x="576.1" y="820.7" font-size="12">59</text>
<text x="326.5" y="906.5" font-size="12">54</text>
<text x="365.6" y="930.2" font-size="12">46</text>
<text x="365.6" y="959.0" font-size="12">45</text>
<text x="553.4" y="959.5" font-size="12">61</text>
<text x="518.7" y="979.8" font-size="12">60</text>
<text x="407.7" y="1020.9" font-size="12">55</text>
<text x="407.7" y="1083.4" font-size="12">56</text>
</g>
<text x="16.3" y="1123.5" font-family="Liberation Sans, sans-serif" font-weight="bold" font-size="16.5" textLength="38.5" lengthAdjust="spacingAndGlyphs" fill="#111">Rev.3</text>
<g fill="none" stroke="#222" stroke-width="1"><rect x="621.8" y="1085.6" width="164.4" height="37.9"/><line x1="621.8" y1="1096.3" x2="786.2" y2="1096.3"/></g>
<text x="678.6" y="1095.1" font-family="Liberation Sans, sans-serif" font-size="8.2" font-weight="bold" textLength="39" lengthAdjust="spacing" fill="#333">MODEL</text>
<text x="665.8" y="1117.1" font-family="Liberation Sans, sans-serif" font-size="20.3" textLength="64.5" lengthAdjust="spacingAndGlyphs" fill="#111">G13BA</text>
</svg>
</body></html>
